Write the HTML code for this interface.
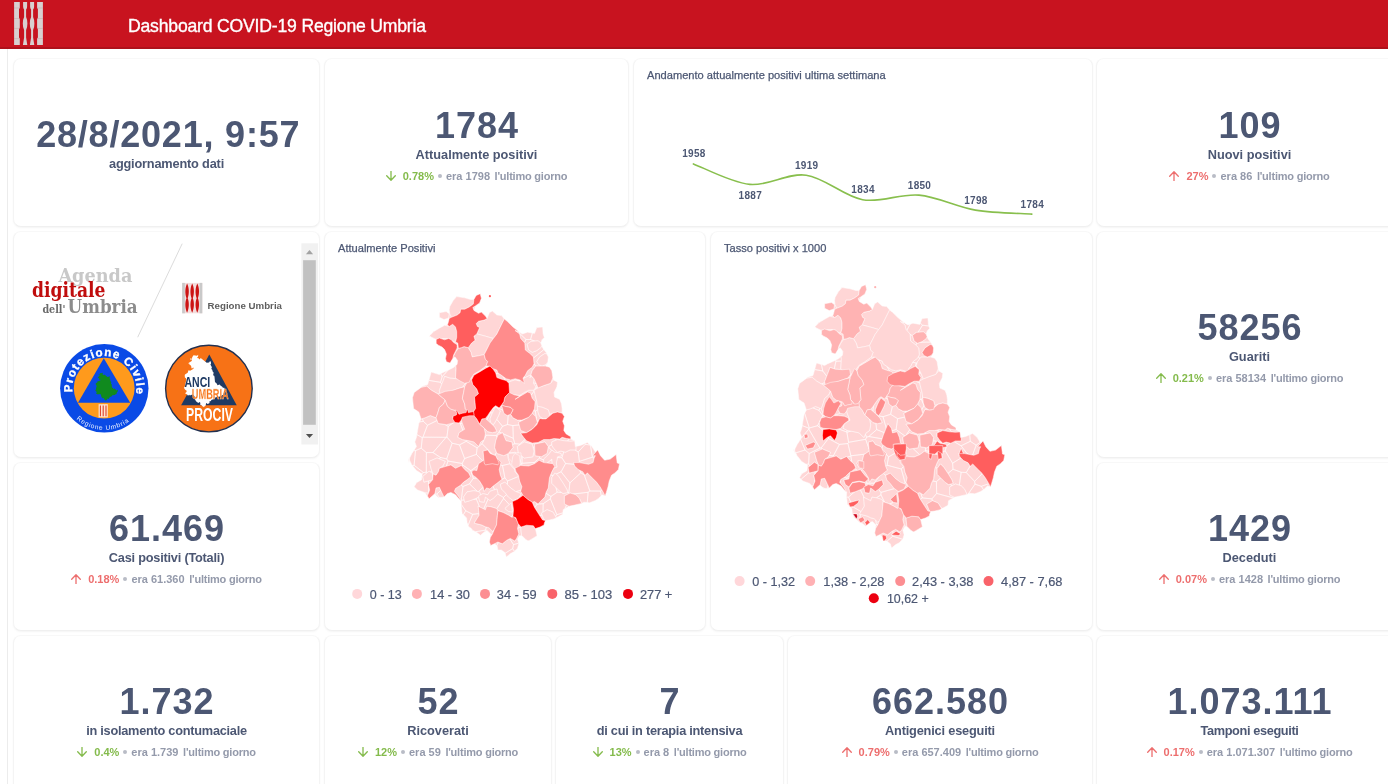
<!DOCTYPE html>
<html lang="it">
<head>
<meta charset="utf-8">
<title>Dashboard COVID-19 Regione Umbria</title>
<style>
*{box-sizing:border-box;margin:0;padding:0}
html,body{width:1388px;height:784px;overflow:hidden;background:#fff;font-family:"Liberation Sans",sans-serif;color:#4c5773}
#hdr{position:absolute;left:0;top:0;width:1388px;height:49px;background:#c8131f;border-bottom:2px solid #ae111b}
#hdr .t{position:absolute;left:128px;top:14.5px;font-size:17.6px;color:#fff;white-space:nowrap;letter-spacing:-.19px;line-height:22px;-webkit-text-stroke:.35px #fff}
#frame{position:absolute;left:7px;top:49px;width:1px;height:735px;background:#ececec}
.card{position:absolute;background:#fff;border:1px solid #f4f4f4;border-top-color:#f8f8f8;border-bottom-color:#f0f0f0;border-radius:8px;box-shadow:0 1px 2px rgba(0,0,0,.045)}
.ln{position:absolute;left:0;right:0;text-align:center;white-space:nowrap}
.num{font-weight:700;font-size:36px;line-height:40px;color:#4c5773;letter-spacing:1px;padding-left:1px}
.lab{font-weight:700;font-size:12.75px;line-height:16px;color:#4c5773}
.sub{font-weight:700;font-size:11px;line-height:14px;color:#949aab;display:flex;justify-content:center;align-items:center}
.sub .g{color:#84bb4c}.sub .r{color:#ed6e6e}
.sub svg{width:10px;height:10px;margin-right:7px;flex:none}
.sub .dot{width:4px;height:4px;border-radius:50%;background:#b9bcc6;margin:0 4px 0 4px;flex:none}
.sub .e{margin-right:4.6px}
.sub .l{letter-spacing:-.22px}
.ttl{position:absolute;font-size:11.1px;line-height:14px;color:#4c5773;white-space:nowrap;-webkit-text-stroke:.25px #4c5773}
</style>
</head>
<body>
<div id="hdr"><svg style="position:absolute;left:13px;top:0" width="32" height="48" viewBox="13 0 32 48">
<g fill="#d8d0d0">
<path d="M14.1 2H19.8V8L19 9V17.5L19.8 19.5V27.5L19 29.5V37.6L19.8 38.6V45H14.1Z"/>
<path d="M42.9 2H37.1V8L37.9 9V17.5L37.1 19.5V27.5L37.9 29.5V37.6L37.1 38.6V45H42.9Z"/>
<path d="M23.1 2H27.1V6.5Q27.1 8.5 26.1 9.5V17Q27.4 19.5 27.4 23.5Q27.4 27.5 26.1 30V37.5L27.3 45H22.9L24.1 37.5V30Q22.8 27.5 22.8 23.5Q22.8 19.5 24.1 17V9.5Q23.1 8.5 23.1 6.5Z"/>
<path d="M30.1 2H34.1V6.5Q34.1 8.5 33.1 9.5V17Q34.4 19.5 34.4 23.5Q34.4 27.5 33.1 30V37.5L34.3 45H29.9L31.1 37.5V30Q29.8 27.5 29.8 23.5Q29.8 19.5 31.1 17V9.5Q30.1 8.5 30.1 6.5Z"/>
</g>
<g stroke="#b88" stroke-width=".5" opacity=".6"><path d="M14.1 8H19.8M14.1 18.5H19.8M14.1 28.4H19.8M14.1 38.6H19.8M37.1 8H42.9M37.1 18.5H42.9M37.1 28.4H42.9M37.1 38.6H42.9"/></g>
</svg><div class="t">Dashboard COVID-19 Regione Umbria</div></div>
<div id="frame"></div>
<div class="card" style="left:13px;top:58px;width:307px;height:169px">
  <div class="ln num" style="top:56px;letter-spacing:.8px;padding-left:3.5px">28/8/2021, 9:57</div>
  <div class="ln lab" style="top:97px;letter-spacing:-.18px">aggiornamento dati</div>
</div>
<div class="card" style="left:324px;top:58px;width:305px;height:169px">
  <div class="ln num" style="top:47px">1784</div>
  <div class="ln lab" style="top:88px">Attualmente positivi</div>
  <div class="ln sub" style="top:110px"><svg viewBox="0 0 10 10"><path d="M5 0.2V9.1M0.7 4.8L5 9.2L9.3 4.8" fill="none" stroke="#84bb4c" stroke-width="1.3" stroke-linecap="round" stroke-linejoin="round"/></svg><span class="g">0.78%</span><span class="dot"></span><span class="e">era 1798</span><span class="l">l'ultimo giorno</span></div>
</div>
<div class="card" style="left:633px;top:58px;width:460px;height:169px">
  <div class="ttl" style="left:13px;top:9px">Andamento attualmente positivi ultima settimana</div>
  <svg style="position:absolute;left:-1px;top:-1px" width="460" height="169" viewBox="633 58 460 169">
<path d="M693.4 163.9C702.8 167.3 731.0 182.5 749.8 184.4C768.6 186.3 787.4 172.6 806.2 175.2C825.0 177.7 843.8 196.4 862.6 199.7C881.4 203.0 900.2 193.3 919.0 195.1C937.8 196.8 956.6 206.9 975.4 210.1C994.2 213.2 1022.4 213.4 1031.8 214.1" fill="none" stroke="#88bf4d" stroke-width="1.6" stroke-linecap="round"/>
<g font-family="Liberation Sans, sans-serif" font-weight="700" font-size="10" fill="#4c5773" text-anchor="middle" letter-spacing=".3"><text x="693.9" y="157.3">1958</text><text x="750.3" y="198.7">1887</text><text x="806.7" y="168.6">1919</text><text x="863.1" y="193.1">1834</text><text x="919.5" y="188.5">1850</text><text x="975.9" y="203.5">1798</text><text x="1032.3" y="207.5">1784</text></g>
</svg>
</div>
<div class="card" style="left:1096px;top:58px;width:307px;height:169px">
  <div class="ln num" style="top:47px">109</div>
  <div class="ln lab" style="top:88px">Nuovi positivi</div>
  <div class="ln sub" style="top:110px"><svg viewBox="0 0 10 10"><path d="M5 9.8V0.9M0.7 5.2L5 0.8L9.3 5.2" fill="none" stroke="#ed6e6e" stroke-width="1.3" stroke-linecap="round" stroke-linejoin="round"/></svg><span class="r">27%</span><span class="dot"></span><span class="e">era 86</span><span class="l">l'ultimo giorno</span></div>
</div>
<div class="card" style="left:13px;top:231px;width:307px;height:227px"><svg style="position:absolute;left:-1px;top:-1px" width="307" height="227" viewBox="13 231 307 227">
<defs>
<path id="pcTop" d="M72.5 392.2A32 32 0 1 1 135.6 394.4"/>
<path id="pcBot" d="M74.9 417.7A41.5 41.5 0 0 0 133.7 417.7"/>
</defs>
<g font-family="DejaVu Serif Condensed, DejaVu Serif, Liberation Serif, serif">
<text x="58.4" y="281.9" font-size="18.8" font-weight="700" fill="#c8c8c8" textLength="74" lengthAdjust="spacingAndGlyphs">Agenda</text>
<text x="42.4" y="313.1" font-size="11.8" font-weight="700" fill="#6a6a6a" textLength="23" lengthAdjust="spacingAndGlyphs">dell'</text>
<text x="67.6" y="313.1" font-size="17.8" font-weight="700" fill="#8c8c8c" textLength="70" lengthAdjust="spacingAndGlyphs">Umbria</text>
<text x="32" y="297.4" font-size="19.8" font-weight="700" fill="#c00d0d" textLength="73.5" lengthAdjust="spacingAndGlyphs">digitale</text>
</g>
<path d="M182.2 243.7L137.7 337.2" stroke="#dcdcdc" stroke-width="1" fill="none"/>
<rect x="182.2" y="282.9" width="20.1" height="30.4" fill="#f3dede"/>
<rect x="182.2" y="282.9" width="2.6" height="30.4" fill="#c9c9c9"/><rect x="199.7" y="282.9" width="2.6" height="30.4" fill="#c9c9c9"/>
<path d="M187.1 283.6C189.29999999999998 288 189.29999999999998 294 187.7 298.2C189.29999999999998 302 189.29999999999998 308 187.1 312.8C184.9 308 184.9 302 186.5 298.2C184.9 294 184.9 288 187.1 283.6ZM192.2 283.6C194.39999999999998 288 194.39999999999998 294 192.79999999999998 298.2C194.39999999999998 302 194.39999999999998 308 192.2 312.8C190.0 308 190.0 302 191.6 298.2C190.0 294 190.0 288 192.2 283.6ZM197.3 283.6C199.5 288 199.5 294 197.9 298.2C199.5 302 199.5 308 197.3 312.8C195.10000000000002 308 195.10000000000002 302 196.70000000000002 298.2C195.10000000000002 294 195.10000000000002 288 197.3 283.6Z" fill="#cc1414"/>
<text x="207.6" y="308.8" font-family="Liberation Sans, sans-serif" font-weight="700" font-size="8.8" fill="#5e5e5e" textLength="74.4" lengthAdjust="spacingAndGlyphs">Regione Umbria</text>
<!-- Protezione Civile -->
<circle cx="104.3" cy="388.3" r="44.2" fill="#0a4ae6"/>
<circle cx="104.2" cy="388.2" r="30.4" fill="#ff9a1c"/>
<path d="M103.8 358.2L78 402.8H130.2Z" fill="#0a4ae6"/>
<path d="M99.7 374.0L100.5 372.9L102.3 373.2L103.0 372.6L102.9 373.6L102.3 374.4L103.1 374.6L103.7 375.2L104.3 374.5L107.5 376.9L108.8 376.8L109.0 376.2L109.7 376.2L109.8 377.3L109.5 377.9L110.3 379.4L110.0 380.3L110.4 380.5L110.8 381.8L111.3 382.1L110.9 383.7L111.5 383.9L111.7 384.4L111.9 387.2L113.1 388.3L113.2 389.0L114.5 388.5L115.3 389.6L115.6 389.3L116.3 390.4L117.5 389.8L117.9 390.8L117.8 391.4L117.0 392.0L116.4 394.2L116.0 394.1L114.7 395.0L112.5 395.3L111.9 395.7L111.8 396.2L110.0 396.9L109.8 397.4L108.9 397.7L109.1 398.5L108.1 399.1L107.2 398.5L107.0 399.8L105.8 400.8L105.6 400.3L104.9 400.0L104.8 399.6L104.1 399.6L104.1 398.3L103.7 397.9L103.0 398.5L101.8 397.5L101.1 396.1L101.0 394.9L100.3 394.1L99.9 393.9L98.5 394.4L98.1 394.1L97.5 394.5L97.0 393.9L95.9 393.3L96.7 392.5L96.8 391.9L96.2 391.5L95.7 390.9L95.3 390.2L95.4 390.7L95.4 390.2L96.2 389.0L96.0 388.5L96.7 386.0L96.4 385.3L95.9 384.9L95.7 383.7L95.9 383.2L97.4 382.3L97.7 381.0L98.6 381.3L100.5 380.2L100.3 379.4L99.8 380.0L99.4 379.9L99.2 378.6L98.3 377.9L98.3 377.5L97.6 377.2L99.5 375.9L99.7 375.2L98.6 375.1L98.6 374.6L99.7 374.8Z" fill="#108a1e"/>
<rect x="98.6" y="404.2" width="9.2" height="13.2" fill="#ffe3d0"/>
<path d="M100.4 405.5v10.8M103.2 405.5v10.8M106 405.5v10.8" stroke="#e0402a" stroke-width="1.1"/>
<g font-family="Liberation Sans, sans-serif" fill="#fff">
<text font-size="11.6" font-weight="700" stroke="#fff" stroke-width=".35"><textPath href="#pcTop" startOffset="0" textLength="110" lengthAdjust="spacing">Protezione Civile</textPath></text>
<text font-size="6.6" fill="#e8eeff"><textPath href="#pcBot" startOffset="2" textLength="57" lengthAdjust="spacing">Regione Umbria</textPath></text>
</g>
<!-- ANCI -->
<circle cx="208.9" cy="388.6" r="43.3" fill="#f77216" stroke="#22304f" stroke-width="1.4"/>
<path d="M209.3 354.4L181.1 405.3H236.7Z" fill="#1f3a63"/>
<clipPath id="anciClip"><path d="M170 340H206L227 395L224 410H170Z"/></clipPath>
<path d="M192.2 357.2L193.5 355.2L197.0 355.8L198.2 354.7L198.1 356.5L197.0 358.0L198.5 358.3L199.6 359.6L200.7 358.1L206.7 362.7L209.1 362.6L209.6 361.4L210.7 361.3L211.1 363.4L210.4 364.5L211.9 367.3L211.3 369.1L212.1 369.4L212.9 371.9L213.7 372.4L213.1 375.3L214.2 375.8L214.5 376.7L215.0 382.0L217.1 384.1L217.3 385.2L219.7 384.4L221.3 386.4L221.7 385.9L223.1 388.0L225.4 386.8L226.1 388.7L225.9 389.8L224.5 391.0L223.2 395.1L222.7 394.9L220.1 396.5L216.0 397.2L214.9 397.8L214.7 398.8L211.3 400.0L211.0 401.1L209.3 401.6L209.6 403.1L207.8 404.1L206.1 403.1L205.7 405.6L203.5 407.3L203.2 406.4L201.8 405.9L201.6 405.0L200.3 405.0L200.3 402.7L199.6 402.0L198.3 403.0L196.0 401.3L194.6 398.6L194.5 396.2L193.3 394.9L192.4 394.4L189.9 395.4L189.2 394.7L188.0 395.7L187.1 394.4L185.0 393.3L186.5 391.9L186.7 390.7L185.5 390.0L184.6 388.9L183.9 387.5L184.0 388.5L184.1 387.5L185.5 385.2L185.2 384.3L186.4 379.7L186.0 378.3L184.9 377.6L184.7 375.4L185.0 374.4L187.7 372.8L188.5 370.3L190.1 370.8L193.6 368.8L193.2 367.3L192.2 368.5L191.5 368.3L191.1 365.8L189.4 364.6L189.4 363.8L188.1 363.2L191.7 360.9L192.0 359.6L190.1 359.4L190.1 358.4L192.0 358.7Z" fill="#fff" clip-path="url(#anciClip)"/>
<g font-family="Liberation Sans, sans-serif" font-weight="700">
<text x="184.5" y="386.6" font-size="15" fill="#1f3a63" textLength="25.7" lengthAdjust="spacingAndGlyphs">ANCI</text>
<text x="191.8" y="399" font-size="14.5" fill="#f77216" stroke="#fbd0a8" stroke-width=".35" textLength="36.9" lengthAdjust="spacingAndGlyphs">UMBRIA</text>
<text x="186.1" y="420.7" font-size="17.7" fill="#fff" textLength="46.9" lengthAdjust="spacingAndGlyphs">PROCIV</text>
</g>
<!-- scrollbar -->
<rect x="301.4" y="243.3" width="16.7" height="201.2" fill="#f1f1f1"/>
<rect x="303.1" y="260.2" width="12.7" height="164.6" fill="#c1c1c1"/>
<path d="M305.9 254.2L309.5 250L313.1 254.2Z" fill="#a3a3a3"/>
<path d="M305.9 433.9L309.5 438.1L313.1 433.9Z" fill="#505050"/>
</svg></div>
<div class="card" style="left:324px;top:231px;width:382px;height:400px">
  <div class="ttl" style="left:13px;top:9px">Attualmente Positivi</div>
  <svg style="position:absolute;left:-1px;top:-1px" width="382" height="400" viewBox="324 231 382 400">
<g><path d="M416.5 470.6L422.2 474.1L421.6 479.8L416.5 482.7L414.2 486.7L417.6 490.1L424.5 492.4L427.4 495.9L429.1 498.8L434.9 494.2L438.3 497.6L444.0 497.0L447.5 493.6L450.9 492.4L455.5 494.8L461.3 501.6L461.2 505.4L462.1 513.4L466.6 517.9L467.1 522.5L468.8 526.8L471.1 528.2L472.9 530.5L476.4 532.0L480.4 535.3L484.9 531.4L487.1 530.4L490.7 533.9L489.4 542.0L490.7 545.5L494.3 543.8L497.0 545.5L497.9 550.0L501.4 550.0L505.0 552.7L506.3 557.1L510.4 553.6L513.9 551.8L517.5 548.2L518.8 543.8L517.5 539.3L519.3 535.7L522.0 535.7L525.5 539.3L528.2 541.1L532.7 538.4L537.1 535.7L535.4 528.6L540.7 526.8L543.8 525.9L544.3 523.2L545.4 520.6L549.5 520.0L554.0 518.9L558.6 516.6L562.7 514.3L563.2 509.7L569.0 506.2L574.7 505.1L580.5 503.9L583.9 502.2L589.6 502.8L595.4 500.5L598.8 498.2L602.3 494.8L605.1 495.9L606.3 492.4L608.0 486.7L609.2 481.0L611.5 475.2L614.9 472.9L618.4 469.5L619.5 463.7L617.2 463.0L616.1 454.5L610.3 459.1L604.6 460.3L600.5 455.7L597.7 449.9L595.4 452.2L591.9 446.5L587.4 442.5L580.5 445.4L575.3 446.5L574.7 440.8L570.7 439.0L570.7 436.7L566.1 433.9L563.8 430.4L564.4 425.8L562.7 421.2L564.4 416.6L562.1 413.2L562.1 408.6L561.5 404.0L559.8 399.4L554.6 397.1L554.0 392.5L556.9 386.8L557.5 382.2L553.5 379.9L552.9 378.0L551.8 370.7L549.5 367.2L545.4 366.1L547.7 362.6L548.3 356.9L546.0 352.3L542.6 347.7L540.8 343.1L542.0 339.7L544.3 337.4L543.1 333.9L542.6 327.0L536.8 327.6L534.5 333.4L527.6 332.2L522.5 333.9L518.7 331.6L518.7 331.6L513.0 327.0L507.2 321.3L504.3 319.0L501.5 315.6L496.9 315.0L492.3 311.0L489.4 312.7L487.1 318.4L485.4 316.1L481.4 312.1L478.5 313.3L473.9 310.4L475.6 305.8L479.6 302.9L481.4 298.3L480.2 293.7L476.2 295.5L473.9 299.5L470.5 299.5L464.7 297.8L456.7 296.6L453.2 300.6L449.8 306.4L449.2 309.8L449.2 313.8L446.3 311.5L439.4 312.7L439.4 317.3L444.0 319.6L448.6 317.9L449.2 318.4L448.6 321.3L447.5 324.8L444.6 325.3L439.4 328.2L433.7 331.6L429.7 335.7L429.5 336.2L436.2 339.4L436.2 343.4L438.4 345.2L442.0 347.0L444.6 349.6L446.4 354.1L445.5 358.6L446.4 361.7L450.0 363.0L452.7 358.6L454.9 356.8L457.6 360.4L457.1 364.4L453.6 367.5L448.2 370.2L442.0 372.9L439.3 374.6L431.2 372.0L429.5 378.2L427.7 384.5L422.3 386.2L421.1 387.4L414.2 392.5L412.5 397.7L413.0 402.9L413.6 408.6L418.8 412.0L421.1 418.9L418.8 423.5L417.6 430.4L416.5 437.3L414.8 441.9L416.5 446.5L411.9 453.4L409.6 458.0L409.4 459.9L411.9 464.9ZM409.0 463.0L409.4 459.9L408.4 458.0Z" fill="#ffd6d6" stroke="#fff" stroke-width="1"/>
<path d="M474.2 309.7L475.6 305.8L472.8 307.5L473.5 309.5ZM449.2 311.7L449.2 313.8L448.6 317.9L449.2 318.4L451.5 317.3L449.8 313.8L449.5 311.9ZM443.5 338.5L442.9 338.5L441.2 338.7L443.3 339.4ZM431.0 337.0L429.7 335.7L429.5 336.2ZM436.9 339.1L436.6 339.1L435.1 338.9L436.2 339.4ZM449.2 326.5L447.5 324.8L444.6 325.3ZM457.8 346.5L458.2 346.5L457.8 343.1L457.1 342.8ZM519.7 333.4L519.5 332.2L518.7 331.6L518.7 331.6L515.0 330.5L519.2 333.6ZM519.7 333.4L526.0 339.5L530.5 339.5L532.4 333.0L527.6 332.2L522.5 333.9L519.5 332.2ZM530.5 339.5L534.7 341.1L538.0 340.8L540.9 343.0L542.0 339.7L544.3 337.4L543.1 333.9L542.6 327.0L536.8 327.6L534.5 333.4L532.4 333.0ZM457.8 346.5L457.1 342.8L455.5 342.0L453.2 341.4L451.8 340.4L453.6 342.5L457.1 344.7L457.1 347.1ZM443.3 339.4L444.6 339.8L448.5 338.5L443.5 338.5ZM448.8 338.5L450.3 339.3L449.2 338.5ZM526.0 339.5L519.7 333.4L519.2 333.6L519.6 333.9L520.7 338.5L524.4 342.7ZM530.5 339.5L526.0 339.5L524.4 342.7L524.8 343.1L525.3 350.0L529.9 353.5L533.4 356.9L533.5 358.0L543.6 349.8L543.0 348.3L542.6 347.7L541.8 345.7L540.8 347.7L536.8 350.6L532.2 352.3L528.8 350.0L527.1 344.3L531.1 341.4L534.7 341.1ZM442.2 376.6L447.9 370.3L442.0 372.9L440.7 373.7ZM457.8 346.5L457.1 347.1L457.1 347.9L455.4 351.4L453.6 355.0L453.0 357.4L453.8 355.8L455.5 352.3L458.4 348.3L458.2 346.5ZM499.3 373.8L498.0 373.0L496.9 370.1L492.3 368.4L490.0 366.1L486.8 366.1L487.3 367.5L490.0 366.1L493.4 369.6L495.7 373.0L495.8 373.3ZM535.8 366.1L542.0 366.1L538.5 364.4L536.8 361.5L539.7 356.9L544.9 353.5L546.9 354.0L548.3 356.9L546.0 352.3L544.6 350.4L543.6 349.8L533.5 358.0L533.9 363.6ZM547.8 361.9L546.0 364.4L542.0 366.1L545.4 366.1L547.7 362.6ZM440.5 382.3L442.2 376.6L440.7 373.7L439.3 374.6L431.2 372.0L429.5 378.2L428.8 380.4ZM442.2 376.6L440.5 382.3L441.5 383.9L441.9 383.8L442.0 383.6L443.8 379.1L444.6 376.4L450.0 378.2L456.4 378.6L455.5 378.0L456.1 368.4L455.8 365.5L453.6 367.5L448.2 370.2L447.9 370.3ZM486.8 366.1L486.0 366.1L479.6 370.7L473.9 374.1L471.0 378.0L470.7 378.9L471.6 379.9L473.9 375.3L479.6 371.9L485.4 368.4L487.3 367.5ZM503.3 376.7L501.5 375.3L499.3 373.8L495.8 373.3L496.9 377.6L501.5 379.3L505.3 380.3ZM505.3 380.3L506.1 380.5L507.9 382.3L508.1 382.2L515.0 379.9L517.4 380.5L516.9 379.1L515.2 378.7L510.6 379.9L506.1 378.7L503.3 376.7ZM517.4 380.5L517.5 380.5L520.4 380.3L519.8 379.9L516.9 379.1ZM524.4 376.4L523.0 378.0L523.3 378.8L524.4 378.1ZM524.4 378.1L525.3 377.6L529.9 375.3L530.6 375.9L532.2 370.7L535.7 366.1L535.8 366.1L533.9 363.6L534.0 363.8L532.2 367.2L527.6 370.7L525.3 375.3L524.4 376.4ZM536.4 383.8L536.2 383.3L534.0 378.7L533.5 382.7ZM530.8 376.0L534.0 378.7L531.1 375.3ZM552.9 377.7L550.6 383.3L553.5 379.9L552.9 378.0ZM552.9 377.7L552.9 377.7L552.9 378.0L551.8 370.7ZM439.9 393.0L439.3 390.7L441.7 384.4L441.5 383.9L440.5 382.3L428.8 380.4L427.7 384.5L422.3 386.2L421.1 387.4L426.8 386.2L431.4 390.2L438.1 394.1ZM464.6 384.3L462.5 387.1L461.4 387.5L461.2 387.7L464.7 386.8L466.7 382.8L466.0 383.0ZM520.7 394.7L519.6 395.4L515.0 394.8L514.1 394.8L519.8 396.0L515.0 399.4L520.6 396.1ZM517.5 380.5L519.6 381.0L520.6 380.4L520.4 380.3ZM533.5 382.7L533.4 383.3L535.7 386.8L534.0 390.2L535.3 389.4L537.0 387.1L536.9 385.0L536.4 383.8ZM534.2 391.0L534.0 390.2L528.8 390.2L524.2 392.5L520.7 394.7L520.6 396.1L520.7 396.0L527.6 391.9L530.5 393.1L531.2 395.1ZM537.0 387.1L537.8 388.0L538.0 387.9L536.9 385.0ZM490.8 411.6L495.1 406.6L495.2 406.1L493.4 407.4L490.4 411.5ZM495.1 406.6L495.7 406.9L495.7 406.9L495.8 406.9L503.0 410.2L502.6 408.6L501.5 405.1L499.2 408.0L495.7 405.7L495.2 406.1ZM537.0 387.1L535.3 389.4L537.8 388.0ZM531.2 395.1L532.2 398.3L535.1 401.7L534.5 408.6L533.7 410.3L535.3 411.1L537.7 409.8L537.4 406.3L536.8 401.7L535.1 394.8L534.2 391.0ZM423.3 421.3L422.4 418.6L421.1 418.9L419.6 421.9ZM423.3 421.3L427.5 425.2L437.1 420.5L436.0 417.8L430.3 415.5L425.1 417.8L422.4 418.6ZM455.5 410.5L454.9 410.3L456.4 411.7L455.7 410.6ZM448.3 426.3L453.3 422.8L450.9 423.5L446.3 424.7L444.7 424.4ZM460.2 423.2L462.4 423.4L461.3 420.1L459.1 422.8ZM458.1 412.6L459.0 414.3L459.2 414.3L458.2 412.6ZM474.6 410.1L473.6 411.5L473.6 411.7L474.6 410.1ZM468.4 412.6L468.8 412.5L468.2 411.8ZM490.9 412.2L490.8 411.6L490.4 411.5L490.0 412.0L487.7 415.5L485.4 418.4L486.9 419.7ZM495.1 406.6L490.8 411.6L490.9 412.2L492.1 413.6L492.3 413.2L494.0 409.8L495.7 406.9ZM495.8 406.9L500.3 410.9L498.6 415.5L496.7 419.2L502.5 426.3L507.5 424.5L508.2 415.2L507.2 415.5L503.8 413.2L503.0 410.2ZM512.9 425.6L519.2 424.9L518.5 422.4L520.4 421.4L520.7 420.1L517.5 420.1L513.0 417.8L510.6 414.3L508.2 415.2L507.5 424.5ZM520.4 421.4L528.8 417.2L521.9 420.1L520.7 420.1ZM535.3 411.1L533.7 410.3L532.2 413.2L535.7 416.6L536.7 420.1ZM538.3 421.5L539.7 418.4L542.6 418.9L543.7 418.9L539.7 416.6L538.0 412.0L537.7 409.8L535.3 411.1L536.7 420.1L536.8 420.5ZM546.4 418.6L543.7 418.9L546.0 418.9ZM552.9 413.2L549.5 414.3L548.8 416.6L549.5 416.1ZM422.3 437.7L422.9 437.2L427.5 425.2L423.3 421.3L419.6 421.9L418.8 423.5L417.6 430.4L416.9 434.6ZM427.5 425.2L422.9 437.2L446.1 437.3L446.9 437.0L448.3 426.3L444.7 424.4L442.9 424.1L438.3 423.5L437.1 420.5ZM446.9 437.0L452.1 443.2L459.5 444.9L466.2 441.3L466.6 440.3L462.4 439.6L457.8 437.3L459.0 432.7L462.9 430.4L460.2 423.2L459.1 422.8L459.0 422.9L454.9 422.4L453.3 422.8L448.3 426.3ZM460.2 423.2L462.9 430.4L464.7 429.3L462.4 423.5L462.4 423.4ZM486.9 419.7L490.0 422.4L494.6 427.0L496.9 431.6L492.3 432.7L487.7 431.6L484.2 428.1L485.4 433.9L485.3 434.3L486.2 435.2L496.3 435.6L499.0 432.0L502.5 426.3L496.7 419.2L495.7 421.2L493.4 424.7L490.6 422.4L490.0 418.9L492.1 413.6L490.9 412.2ZM513.3 438.3L512.9 425.6L507.5 424.5L502.5 426.3L499.0 432.0L501.7 433.2L502.6 432.7L503.1 433.8ZM512.9 425.6L513.3 438.3L514.8 443.7L519.5 444.1L525.3 439.4L523.6 437.3L520.7 433.3L525.9 432.8L525.8 432.4L520.7 430.4L519.2 424.9ZM536.8 420.5L537.4 422.4L533.4 428.1L526.5 432.7L532.2 429.3L536.8 424.7L538.3 421.5ZM525.9 432.8L526.5 432.7L525.8 432.4ZM569.1 438.8L566.7 438.5L562.1 437.3L559.8 439.0L555.3 438.6L556.2 440.1L557.5 439.6L564.4 440.8L567.6 441.1ZM415.5 450.6L421.2 448.2L422.3 437.7L416.9 434.6L416.5 437.3L414.8 441.9L416.5 446.5L413.7 450.7ZM421.2 448.2L426.4 452.6L433.0 452.6L446.1 437.3L422.9 437.2L422.3 437.7ZM446.1 437.3L433.0 452.6L440.5 457.5L446.7 458.9L452.1 443.2L446.9 437.0ZM459.5 444.9L464.6 458.5L476.4 454.4L477.1 447.9L466.2 441.3ZM486.2 435.2L485.3 434.3L484.4 439.0ZM466.2 441.3L477.1 447.9L482.1 443.7L484.0 439.8L480.8 441.9L478.5 446.5L473.9 441.9L469.3 440.8L466.6 440.3ZM496.4 452.2L494.6 447.6L495.7 440.8L497.1 437.3L496.3 435.6L486.2 435.2L484.4 439.0L484.2 439.6L484.0 439.8L482.1 443.7L492.5 454.4L495.1 455.4ZM514.8 443.7L513.3 438.3L503.1 433.8L506.1 440.8L511.8 441.9L512.3 444.6ZM499.0 432.0L496.3 435.6L497.1 437.3L498.0 435.0L501.7 433.2ZM519.5 444.1L519.7 444.9L524.2 441.9L532.2 444.2L533.1 447.5L534.6 446.4L534.5 444.2L537.9 443.5L537.5 442.5L532.2 443.1L526.5 440.8L525.3 439.4ZM555.3 438.6L554.0 438.5L549.5 439.6L543.7 439.6L538.0 442.5L537.5 442.5L537.9 443.5L544.9 441.9L548.3 446.5L548.3 446.8L548.3 446.8L551.8 444.5L551.8 441.9L556.2 440.1ZM548.3 446.8L551.5 450.3L551.8 449.9L554.6 452.2L560.9 453.4L561.5 455.7L557.5 456.8L557.5 457.0L557.9 457.5L561.9 457.8L563.7 451.8L560.9 451.1L557.5 452.2L554.0 448.8L551.8 445.4L551.8 444.5ZM567.6 441.1L570.1 441.3L574.7 440.9L574.7 440.8L570.7 439.0L569.1 438.8ZM578.2 452.0L585.2 444.3L584.5 443.7L580.5 445.4L575.9 446.4L575.9 449.9L575.0 449.9ZM585.2 444.3L590.2 445.0L587.4 442.5L584.5 443.7ZM414.1 465.3L415.5 450.6L413.7 450.7L411.9 453.4L409.6 458.0L409.4 459.9L411.9 464.9L412.4 465.6ZM408.4 458.0L409.0 463.0L409.4 459.9ZM426.3 472.2L426.4 452.6L421.2 448.2L415.5 450.6L414.1 465.3L423.5 472.6ZM440.5 457.5L433.0 452.6L426.4 452.6L426.3 472.2L427.2 472.7L429.1 471.2L430.6 472.2L431.8 470.5L431.4 469.5L429.1 461.4L437.1 458.0L439.5 459.0ZM464.6 458.5L459.5 444.9L452.1 443.2L446.7 458.9L448.0 461.0L462.2 463.5ZM476.4 454.4L464.6 458.5L462.2 463.5L462.7 465.0L470.8 470.7L478.1 465.5L478.5 463.7L482.7 460.9ZM482.1 443.7L477.1 447.9L476.4 454.4L482.7 460.9L484.0 460.1L483.1 451.1L487.7 449.9L490.0 453.4L492.5 454.4ZM509.7 451.7L508.4 453.3L509.9 453.1ZM502.5 465.5L510.2 463.7L508.4 459.1L507.8 453.7L503.8 455.7L496.9 453.4L496.4 452.2L495.1 455.4L495.7 455.7L497.3 459.0L498.0 459.1L500.9 462.6L500.3 465.0ZM512.3 444.6L513.0 447.6L509.7 451.7L509.9 453.1L515.2 452.2L515.9 453.1L518.4 452.9L517.3 446.5L519.7 444.9L519.5 444.1L514.8 443.7ZM522.0 463.3L522.2 456.4L521.0 455.4L521.0 458.0L520.4 460.9L521.0 463.7L520.9 464.1ZM539.6 456.5L535.1 455.7L534.6 446.4L533.1 447.5L534.0 451.1L532.8 456.8L524.2 458.0L522.2 456.4L522.0 463.3L534.3 462.4L539.5 458.1ZM557.9 457.5L557.5 457.0L557.3 457.7ZM551.8 459.8L551.8 459.1L550.4 460.3ZM539.5 458.1L543.7 460.1L543.7 459.1L549.5 453.4L551.5 450.3L548.3 446.8L548.3 446.8L547.1 453.4L541.4 456.8L539.6 456.5ZM579.4 461.4L578.2 452.0L575.0 449.9L570.1 449.9L565.5 452.2L563.7 451.8L561.9 457.8L565.6 463.5L574.1 464.3L573.6 462.6L578.6 462.6ZM585.2 444.3L578.2 452.0L579.4 461.4L592.4 457.2L590.4 445.1L590.2 445.0ZM592.4 457.2L594.2 458.2L594.2 458.0L595.4 455.7L592.5 455.7L597.7 449.9L595.4 452.2L591.9 446.5L590.4 445.1ZM423.5 472.6L414.1 465.3L412.4 465.6L416.5 470.6L421.7 473.8ZM448.0 461.0L446.7 458.9L440.5 457.5L439.5 459.0L445.2 461.4L442.9 466.0L439.4 468.3L445.2 466.6L446.3 466.3ZM430.6 472.2L432.6 473.5L432.6 473.7L433.0 473.8L431.8 470.5ZM462.7 465.0L462.2 463.5L448.0 461.0L446.3 466.3L450.9 464.9L455.5 468.3L461.3 465.5L462.0 466.3ZM462.7 465.0L462.0 466.3L464.7 469.5L468.7 472.9L470.5 476.9L467.0 479.8L463.6 482.1L460.8 484.9L463.0 486.5L469.5 483.9L473.3 478.2L470.8 470.7ZM470.8 470.7L473.3 478.2L476.8 478.2L476.2 477.5L472.8 475.2L471.6 471.8L473.9 470.1L476.8 470.6L478.1 465.5ZM504.9 477.8L502.5 465.5L500.3 465.0L499.2 469.5L500.3 475.2L502.0 479.2L501.7 479.5ZM502.5 465.5L504.9 477.8L507.5 481.0L518.7 476.4L518.6 476.0L515.2 471.8L514.8 468.8L514.1 468.9L510.6 464.9L510.2 463.7ZM534.3 462.4L522.0 463.3L520.9 464.1L520.8 464.6L524.0 465.7L528.8 466.0L534.5 463.7L534.7 463.6ZM550.9 475.0L550.7 474.4L550.4 475.2ZM547.4 462.8L547.2 463.0L547.4 463.1ZM539.5 458.1L534.3 462.4L534.7 463.6L539.1 460.3L543.7 462.6L543.7 460.1ZM557.3 457.7L556.3 463.0L556.9 467.2L553.8 468.0L551.8 471.8L550.7 474.4L550.9 475.0L552.8 475.6L553.4 475.3L555.2 472.9L556.3 474.0L561.1 471.8L565.6 463.5L561.9 457.8L557.9 457.5ZM550.4 460.3L547.4 462.8L547.4 463.1L552.3 463.7L551.8 459.8ZM565.6 463.5L561.1 471.8L569.9 482.9L580.8 472.8L579.7 470.2L578.2 469.5L574.7 466.0L574.1 464.3ZM592.4 457.2L579.4 461.4L578.6 462.6L579.3 462.6L588.5 464.3L593.1 462.6L594.2 458.2ZM587.8 473.4L587.4 472.9L586.3 474.0ZM580.8 472.8L584.2 474.8L584.7 474.6L582.8 471.8L579.7 470.2ZM426.3 472.2L423.5 472.6L421.7 473.8L422.2 474.1L421.6 479.8L416.5 482.7L414.2 486.7L417.6 490.1L424.5 492.4L424.8 492.8L428.5 493.1L428.6 492.8L428.5 480.8L428.0 481.0L423.9 482.1L422.8 476.4L427.2 472.7ZM432.6 473.7L432.6 479.8L433.1 474.1L433.0 473.8ZM428.6 492.8L429.7 490.1L428.5 484.4L432.6 479.8L428.5 480.8ZM436.9 494.0L440.8 490.3L439.4 487.3L436.0 487.9L434.9 493.6L434.4 494.0ZM461.3 500.2L463.0 486.5L460.8 484.9L460.1 485.6L455.5 488.4L454.4 491.3L459.0 497.0L460.9 500.8ZM469.5 483.9L477.4 491.4L478.4 491.6L483.2 487.3L483.1 486.7L479.6 481.0L476.8 478.2L473.3 478.2ZM478.4 491.6L479.6 491.9L480.5 494.9L483.1 493.6L487.7 494.8L490.0 491.3L494.7 489.7L492.9 486.3L492.3 486.7L490.0 489.0L486.5 487.9L484.2 491.3L483.2 487.3ZM503.5 497.4L506.5 494.6L504.9 492.4L501.5 489.0L500.3 484.4L504.9 482.1L507.4 484.6L507.5 481.0L504.9 477.8L501.7 479.5L496.9 483.3L492.9 486.3L494.7 489.7L496.9 489.0L498.0 493.6L497.6 494.0ZM507.5 481.0L507.4 484.6L510.6 487.9L515.2 491.3L516.0 491.6L521.0 490.2L521.9 486.7L519.6 481.0L518.7 476.4ZM550.9 496.4L557.2 492.2L555.9 487.4L555.2 486.7L551.8 483.3L551.8 477.5L552.9 476.0L552.8 475.6L550.9 475.0L550.4 475.2L549.5 477.5L548.9 482.1L548.3 487.9L546.0 492.4L545.8 493.2ZM568.8 492.6L569.9 482.9L561.1 471.8L556.3 474.0L558.6 476.4L563.2 483.3L566.7 489.0L567.8 492.4L567.3 492.6ZM557.2 492.2L561.4 492.4L559.8 491.3L555.9 487.4ZM552.8 475.6L552.9 476.0L553.4 475.3ZM588.1 492.3L589.9 491.0L584.2 474.8L580.8 472.8L569.9 482.9L568.8 492.6L569.5 493.3L570.1 493.0L573.3 494.0ZM601.1 488.5L600.0 486.7L596.5 482.1L593.1 478.7L589.6 475.2L587.8 473.4L586.3 474.0L585.0 475.2L584.7 474.6L584.2 474.8L589.9 491.0L600.4 491.1L601.5 490.3ZM424.8 492.8L427.4 495.9L428.5 493.1ZM436.9 494.0L434.4 494.0L429.1 498.8L434.9 494.2L438.3 497.6L439.4 497.5ZM436.9 494.0L439.4 497.5L444.0 497.0L441.8 492.4L440.8 490.3ZM469.5 483.9L463.0 486.5L461.3 500.2L464.2 500.0L463.6 497.0L467.0 491.9L473.9 490.7L477.4 491.4ZM476.4 499.1L477.2 497.7L476.2 498.2L473.3 499.4ZM476.4 499.1L479.6 507.0L481.8 508.0L483.7 509.0L488.1 499.1L485.4 497.0L484.2 502.2L479.6 501.6L478.7 496.9L477.2 497.7ZM497.0 508.5L503.6 498.4L503.5 497.4L497.6 494.0L493.4 498.2L490.0 500.5L488.1 499.1L483.7 509.0L485.4 509.8L486.7 506.2L490.7 506.7L496.5 508.5L496.6 508.6ZM513.4 509.0L513.4 508.9L512.4 501.6L517.5 499.3L523.0 495.3L520.7 491.3L521.0 490.2L516.0 491.6L521.0 493.6L518.7 498.2L513.0 500.5L508.4 497.0L506.5 494.6L503.5 497.4L503.6 498.4L509.3 504.6L511.2 502.8L511.8 507.3ZM537.2 504.1L536.7 503.1L534.5 501.6L532.2 502.2L534.5 507.4L534.7 507.6ZM537.2 504.1L543.2 503.7L550.4 498.8L550.9 496.4L545.8 493.2L544.9 497.0L540.3 501.6L538.0 503.9L536.7 503.1ZM562.8 512.9L563.2 509.7L564.9 508.7L566.5 505.0L564.4 503.9L564.4 495.9L569.5 493.3L568.8 492.6L567.3 492.6L563.2 493.6L561.4 492.4L557.2 492.2L550.9 496.4L550.4 498.8L556.8 514.7ZM588.1 492.3L573.3 494.0L575.9 494.8L579.3 498.2L581.6 503.4L583.9 502.2L587.3 502.6ZM575.8 504.9L580.5 503.9L581.6 503.4L581.6 503.4L575.8 504.8ZM600.4 491.1L589.9 491.0L588.1 492.3L587.3 502.6L589.6 502.8L595.4 500.5L598.8 498.2L601.2 495.8ZM601.5 490.3L600.4 491.1L601.2 495.8L602.3 494.8L605.1 495.9L603.4 492.4L602.0 490.1ZM465.7 510.8L461.3 504.5L461.2 505.4L462.1 513.4L463.4 514.7ZM476.4 499.1L473.3 499.4L470.5 500.5L464.7 502.2L464.2 500.0L461.3 500.2L460.9 500.8L461.3 501.6L461.3 504.5L465.7 510.8L472.7 514.3L479.0 513.6L478.7 510.7L478.2 506.2L479.6 507.0ZM513.1 514.9L513.5 509.7L513.4 509.2L513.4 509.0L511.8 507.3L512.4 512.0L508.4 511.4L504.9 508.5L509.3 504.6L503.6 498.4L497.0 508.5L497.4 510.0L497.9 510.7L503.2 512.5L508.6 515.2L511.2 516.8ZM543.2 503.7L537.2 504.1L534.7 507.6L537.4 512.0L539.7 515.7L542.1 514.9L541.4 513.1L543.0 512.2ZM556.8 514.7L550.4 498.8L543.2 503.7L543.0 512.2L547.1 509.7L552.9 512.0L555.6 516.5ZM564.9 508.7L569.0 506.2L566.5 505.0ZM575.8 504.8L574.7 505.1L575.8 504.9ZM472.7 514.3L465.7 510.8L463.4 514.7L466.6 517.9L467.1 522.5L468.1 525.1ZM472.7 514.3L468.1 525.1L468.8 526.8L471.1 528.2L472.9 530.5L475.9 531.7L485.6 530.1L486.3 527.2L486.2 527.0L485.4 526.8L481.8 525.0L478.2 524.1L474.2 523.2L476.4 519.6L479.1 515.2L479.0 513.6ZM492.0 534.7L492.5 533.9L494.3 529.5L492.5 531.2L488.9 527.7L486.5 527.1L486.3 527.2L485.6 530.1L486.0 530.9L487.1 530.4L490.7 533.9L490.7 534.2ZM511.2 516.8L512.1 517.4L513.0 516.6L512.9 516.6L513.1 514.9ZM520.7 526.8L518.2 523.5L518.4 524.1L517.5 528.5ZM516.5 519.6L515.8 517.7L514.5 517.2ZM539.7 515.7L540.3 516.6L542.6 520.0L545.4 520.6L549.5 520.0L545.4 520.6L543.7 518.9L542.1 514.9ZM543.8 525.9L544.0 525.0L541.4 526.3L540.1 527.0L537.7 527.8L540.7 526.8ZM556.8 514.7L555.6 516.5L556.3 517.7L558.6 516.6L562.7 514.3L562.8 512.9ZM485.6 530.1L475.9 531.7L476.4 532.0L480.4 535.3L484.9 531.4L486.0 530.9ZM498.4 542.2L497.9 542.0L494.3 543.8L496.9 545.5ZM490.7 534.2L489.4 542.0L490.3 537.5L492.0 534.7ZM512.7 548.6L513.5 544.6L509.7 538.7L506.8 540.2L502.3 543.8L498.4 542.2L496.9 545.5L497.0 545.5L497.9 550.0L501.4 550.0L505.0 552.7L505.2 553.2ZM513.5 544.6L518.7 543.2L517.5 539.3L519.3 535.7L521.6 535.7L520.7 526.9L520.8 526.9L520.7 526.8L517.5 528.5L517.5 528.6L518.8 533.9L516.6 538.4L514.8 541.1L510.4 538.4L509.7 538.7ZM512.7 548.6L505.2 553.2L506.3 557.1L510.4 553.6L513.9 551.8L514.4 551.3ZM513.5 544.6L512.7 548.6L514.4 551.3L517.5 548.2L518.8 543.8L518.7 543.2Z" fill="#ffd6d6" stroke="#fff" stroke-opacity=".75" stroke-width=".65" stroke-linejoin="round"/>
<path d="M449.8 306.4L449.2 309.8L449.8 313.8L451.5 317.3L457.2 315.0L460.1 312.7L460.7 309.2L464.7 309.2L469.3 306.9L473.3 304.1L473.9 299.5L470.5 299.5L464.7 297.8L456.7 296.6L453.2 300.6Z" fill="#ffd6d6" stroke="#fff" stroke-opacity=".75" stroke-width=".65" stroke-linejoin="round"/>
<path d="M429.7 335.7L431.0 337.0L435.1 338.9L436.6 339.1L442.9 338.5L449.2 338.5L453.2 341.4L455.5 342.0L456.7 337.4L456.7 331.6L455.5 327.0L452.7 324.2L449.2 326.5L444.6 325.3L439.4 328.2L433.7 331.6Z" fill="#ffd6d6" stroke="#fff" stroke-opacity=".75" stroke-width=".65" stroke-linejoin="round"/>
<path d="M487.1 318.4L484.2 320.1L478.5 321.3L476.2 323.6L477.4 326.5L479.6 327.6L476.8 333.9L485.4 336.2L493.4 338.5L496.9 333.9L500.3 327.0L502.6 322.4L504.3 319.0L501.5 315.6L496.9 315.0L492.3 311.0L489.4 312.7Z" fill="#ffd6d6" stroke="#fff" stroke-opacity=".75" stroke-width=".65" stroke-linejoin="round"/>
<path d="M473.9 336.2L475.1 340.2L471.6 343.1L468.2 347.7L471.0 352.3L472.2 356.9L478.5 355.8L484.2 354.6L487.1 348.9L490.0 343.1L493.4 338.5L485.4 336.2L476.8 333.9Z" fill="#ffd6d6" stroke="#fff" stroke-opacity=".75" stroke-width=".65" stroke-linejoin="round"/>
<path d="M550.6 383.3L543.7 385.6L538.0 387.9L534.0 390.2L535.1 394.8L536.8 401.7L537.4 406.3L542.6 407.4L548.3 409.8L549.5 414.3L552.9 413.2L557.5 412.0L562.1 413.2L562.1 408.6L561.5 404.0L559.8 399.4L554.6 397.1L554.0 392.5L556.9 386.8L557.5 382.2L553.5 379.9Z" fill="#ffd6d6" stroke="#fff" stroke-opacity=".75" stroke-width=".65" stroke-linejoin="round"/>
<path d="M439.4 312.7L439.4 317.3L444.0 319.6L448.6 317.9L449.2 313.8L446.3 311.5Z" fill="#ffd6d6" stroke="#fff" stroke-opacity=".75" stroke-width=".65" stroke-linejoin="round"/>
<path d="M538.0 340.8L531.1 341.4L527.1 344.3L528.8 350.0L532.2 352.3L536.8 350.6L540.8 347.7L541.8 345.7L540.8 343.1L540.9 343.0Z" fill="#ffd6d6" stroke="#fff" stroke-opacity=".75" stroke-width=".65" stroke-linejoin="round"/>
<path d="M544.9 353.5L539.7 356.9L536.8 361.5L538.5 364.4L542.0 366.1L546.0 364.4L547.8 361.9L548.3 356.9L546.9 354.0Z" fill="#ffd6d6" stroke="#fff" stroke-opacity=".75" stroke-width=".65" stroke-linejoin="round"/>
<path d="M538.0 412.0L539.7 416.6L543.7 418.9L548.3 418.4L549.5 414.3L548.3 409.8L542.6 407.4L537.4 406.3Z" fill="#ffd6d6" stroke="#fff" stroke-opacity=".75" stroke-width=".65" stroke-linejoin="round"/>
<path d="M570.1 441.3L564.4 440.8L557.5 439.6L551.8 441.9L551.8 445.4L554.0 448.8L557.5 452.2L560.9 451.1L565.5 452.2L570.1 449.9L575.9 449.9L575.9 446.4L575.3 446.5L574.7 440.9Z" fill="#ffd6d6" stroke="#fff" stroke-opacity=".75" stroke-width=".65" stroke-linejoin="round"/>
<path d="M543.7 467.2L546.0 468.3L547.1 463.0L551.8 459.1L552.9 468.3L556.9 467.2L556.3 463.0L557.5 456.8L561.5 455.7L560.9 453.4L554.6 452.2L551.8 449.9L549.5 453.4L543.7 459.1Z" fill="#ffd6d6" stroke="#fff" stroke-opacity=".75" stroke-width=".65" stroke-linejoin="round"/>
<path d="M533.4 525.8L526.5 525.2L520.7 526.9L521.6 535.7L522.0 535.7L525.5 539.3L527.9 540.8L529.3 540.4L532.7 538.4L537.1 535.7L535.4 528.8Z" fill="#ffd6d6" stroke="#fff" stroke-opacity=".75" stroke-width=".65" stroke-linejoin="round"/>
<path d="M551.8 483.3L555.2 486.7L559.8 491.3L563.2 493.6L567.8 492.4L566.7 489.0L563.2 483.3L558.6 476.4L555.2 472.9L551.8 477.5Z" fill="#ffd6d6" stroke="#fff" stroke-opacity=".75" stroke-width=".65" stroke-linejoin="round"/>
<path d="M552.9 512.0L547.1 509.7L541.4 513.1L543.7 518.9L545.4 520.6L549.5 520.0L554.0 518.9L556.3 517.7Z" fill="#ffd6d6" stroke="#fff" stroke-opacity=".75" stroke-width=".65" stroke-linejoin="round"/>
<path d="M443.8 379.1L442.0 383.6L439.3 390.7L440.2 394.3L450.0 391.6L457.1 388.9L462.5 387.1L465.2 383.6L464.3 378.2L457.1 378.7L450.0 378.2L444.6 376.4Z" fill="#ffd6d6" stroke="#fff" stroke-opacity=".75" stroke-width=".65" stroke-linejoin="round"/>
<path d="M501.8 390.2L504.7 393.7L509.3 394.8L515.0 394.8L519.6 395.4L524.2 392.5L528.8 390.2L534.0 390.2L535.7 386.8L533.4 383.3L534.0 378.7L529.9 375.3L525.3 377.6L519.6 381.0L515.0 379.9L508.1 382.2L502.4 385.6Z" fill="#ffd6d6" stroke="#fff" stroke-opacity=".75" stroke-width=".65" stroke-linejoin="round"/>
<path d="M494.0 409.8L492.3 413.2L490.0 418.9L490.6 422.4L493.4 424.7L495.7 421.2L498.6 415.5L500.3 410.9L495.7 406.9Z" fill="#ffd6d6" stroke="#fff" stroke-opacity=".75" stroke-width=".65" stroke-linejoin="round"/>
<path d="M508.4 459.1L510.6 464.9L514.1 468.9L519.8 468.3L521.0 463.7L519.8 458.0L515.2 452.2L507.8 453.4Z" fill="#ffd6d6" stroke="#fff" stroke-opacity=".75" stroke-width=".65" stroke-linejoin="round"/>
<path d="M518.5 453.4L524.2 458.0L532.8 456.8L534.0 451.1L532.2 444.2L524.2 441.9L517.3 446.5Z" fill="#ffd6d6" stroke="#fff" stroke-opacity=".75" stroke-width=".65" stroke-linejoin="round"/>
<path d="M431.4 469.5L433.1 474.1L436.0 475.2L438.3 471.8L439.4 468.3L442.9 466.0L445.2 461.4L437.1 458.0L429.1 461.4Z" fill="#ffd6d6" stroke="#fff" stroke-opacity=".75" stroke-width=".65" stroke-linejoin="round"/>
<path d="M423.9 482.1L428.0 481.0L432.6 479.8L432.6 473.5L429.1 471.2L422.8 476.4Z" fill="#ffd6d6" stroke="#fff" stroke-opacity=".75" stroke-width=".65" stroke-linejoin="round"/>
<path d="M501.5 489.0L504.9 492.4L508.4 497.0L513.0 500.5L518.7 498.2L521.0 493.6L515.2 491.3L510.6 487.9L504.9 482.1L500.3 484.4Z" fill="#ffd6d6" stroke="#fff" stroke-opacity=".75" stroke-width=".65" stroke-linejoin="round"/>
<path d="M515.2 471.8L519.8 477.5L525.0 478.7L526.7 471.8L525.0 466.0L519.8 464.3L514.1 464.9Z" fill="#ffd6d6" stroke="#fff" stroke-opacity=".75" stroke-width=".65" stroke-linejoin="round"/>
<path d="M508.4 458.0L511.8 461.4L515.2 464.3L519.8 463.7L521.0 458.0L521.0 452.8L508.4 453.4Z" fill="#ffd6d6" stroke="#fff" stroke-opacity=".75" stroke-width=".65" stroke-linejoin="round"/>
<path d="M464.7 502.2L470.5 500.5L476.2 498.2L480.8 495.9L479.6 491.9L473.9 490.7L467.0 491.9L463.6 497.0Z" fill="#ffd6d6" stroke="#fff" stroke-opacity=".75" stroke-width=".65" stroke-linejoin="round"/>
<path d="M479.6 501.6L484.2 502.2L485.4 497.0L490.0 500.5L493.4 498.2L498.0 493.6L496.9 489.0L490.0 491.3L487.7 494.8L483.1 493.6L478.5 495.9Z" fill="#ffd6d6" stroke="#fff" stroke-opacity=".75" stroke-width=".65" stroke-linejoin="round"/>
<path d="M508.4 511.4L512.4 512.0L511.2 502.8L504.9 508.5Z" fill="#ffd6d6" stroke="#fff" stroke-opacity=".75" stroke-width=".65" stroke-linejoin="round"/>
<path d="M512.7 456.8L511.6 464.9L515.0 468.9L519.6 468.3L520.2 463.0L519.6 455.7L515.0 453.4Z" fill="#ffd6d6" stroke="#fff" stroke-opacity=".75" stroke-width=".65" stroke-linejoin="round"/>
<path d="M412.5 397.7L413.0 402.9L413.6 408.6L418.8 412.0L421.1 418.9L425.1 417.8L430.3 415.5L436.0 417.8L437.7 413.2L439.4 407.4L443.5 404.0L445.2 400.0L438.3 394.2L431.4 390.2L426.8 386.2L421.1 387.4L414.2 392.5Z" fill="#ffb3b3" stroke="#fff" stroke-opacity=".75" stroke-width=".65" stroke-linejoin="round"/>
<path d="M443.5 404.0L439.4 407.4L437.7 413.2L436.0 417.8L438.3 423.5L442.9 424.1L446.3 424.7L450.9 423.5L454.9 422.4L452.7 418.9L453.2 416.1L456.7 414.9L457.2 412.6L454.9 410.3L450.9 409.2L447.5 406.3L445.2 400.0Z" fill="#ffb3b3" stroke="#fff" stroke-opacity=".75" stroke-width=".65" stroke-linejoin="round"/>
<path d="M438.3 394.2L445.2 400.0L447.5 406.3L450.9 409.2L454.9 410.3L457.2 410.9L459.6 414.9L462.4 413.8L466.4 413.2L467.0 410.9L465.3 408.6L464.7 404.0L462.4 398.3L463.6 392.5L464.7 386.8L460.1 387.9L453.2 390.2L445.2 391.4L439.4 393.7Z" fill="#ffb3b3" stroke="#fff" stroke-opacity=".75" stroke-width=".65" stroke-linejoin="round"/>
<path d="M463.6 392.5L462.4 398.3L464.7 404.0L465.3 408.6L467.6 410.9L469.3 413.2L472.8 412.6L475.6 408.6L475.1 402.9L474.5 397.1L478.5 393.7L476.8 389.1L472.8 384.5L471.6 379.9L469.3 377.6L467.0 382.2L464.7 386.8Z" fill="#ffb3b3" stroke="#fff" stroke-opacity=".75" stroke-width=".65" stroke-linejoin="round"/>
<path d="M461.3 420.1L462.4 423.5L464.7 429.3L459.0 432.7L457.8 437.3L462.4 439.6L469.3 440.8L473.9 441.9L478.5 446.5L480.8 441.9L484.2 439.6L485.4 433.9L484.2 428.1L479.6 424.1L476.8 418.9L473.9 415.5L472.8 413.2L467.0 414.9L462.4 416.1Z" fill="#ffb3b3" stroke="#fff" stroke-opacity=".75" stroke-width=".65" stroke-linejoin="round"/>
<path d="M484.2 428.1L487.7 431.6L492.3 432.7L496.9 431.6L494.6 427.0L490.0 422.4L485.4 418.4L481.9 418.9L479.6 424.1Z" fill="#ffb3b3" stroke="#fff" stroke-opacity=".75" stroke-width=".65" stroke-linejoin="round"/>
<path d="M495.7 440.8L494.6 447.6L496.9 453.4L503.8 455.7L508.4 453.4L513.0 447.6L511.8 441.9L506.1 440.8L502.6 432.7L498.0 435.0Z" fill="#ffb3b3" stroke="#fff" stroke-opacity=".75" stroke-width=".65" stroke-linejoin="round"/>
<path d="M456.1 368.4L455.5 378.0L460.1 381.0L464.7 383.3L469.3 382.2L471.0 378.0L473.9 374.1L479.6 370.7L486.0 366.1L487.7 361.5L485.4 359.2L484.2 354.6L478.5 355.8L472.2 356.9L471.0 352.3L468.2 347.7L464.1 346.6L461.3 347.7L458.4 348.3L455.5 352.3L453.8 355.8L452.1 359.2L452.2 359.3L452.7 358.6L454.9 356.8L457.6 360.4L457.1 364.4L455.8 365.5Z" fill="#ffb3b3" stroke="#fff" stroke-opacity=".75" stroke-width=".65" stroke-linejoin="round"/>
<path d="M545.4 366.1L535.7 366.1L532.2 370.7L529.9 378.0L531.1 375.3L534.0 378.7L536.2 383.3L538.0 387.9L543.7 385.6L550.6 383.3L552.9 377.7L551.8 370.7L549.5 367.2ZM552.9 377.7L552.9 378.0L552.9 377.7Z" fill="#ffb3b3" stroke="#fff" stroke-opacity=".75" stroke-width=".65" stroke-linejoin="round"/>
<path d="M520.7 430.4L526.5 432.7L533.4 428.1L537.4 422.4L535.7 416.6L532.2 413.2L528.8 417.2L518.5 422.4Z" fill="#ffb3b3" stroke="#fff" stroke-opacity=".75" stroke-width=".65" stroke-linejoin="round"/>
<path d="M535.1 455.7L541.4 456.8L547.1 453.4L548.3 446.5L544.9 441.9L534.5 444.2Z" fill="#ffb3b3" stroke="#fff" stroke-opacity=".75" stroke-width=".65" stroke-linejoin="round"/>
<path d="M478.7 510.7L479.1 515.2L476.4 519.6L474.2 523.2L478.2 524.1L481.8 525.0L485.4 526.8L488.9 527.7L492.5 531.2L494.3 529.5L496.5 525.0L497.0 519.6L497.4 515.2L497.9 510.7L496.5 508.5L490.7 506.7L486.7 506.2L485.4 509.8L481.8 508.0L478.2 506.2Z" fill="#ffb3b3" stroke="#fff" stroke-opacity=".75" stroke-width=".65" stroke-linejoin="round"/>
<path d="M579.3 498.2L575.9 494.8L570.1 493.0L564.4 495.9L564.4 503.9L569.0 506.2L574.7 505.1L581.6 503.4L581.6 503.4Z" fill="#ffb3b3" stroke="#fff" stroke-opacity=".75" stroke-width=".65" stroke-linejoin="round"/>
<path d="M502.6 322.4L500.3 327.0L496.9 333.9L493.4 338.5L490.0 343.1L487.1 348.9L484.2 354.6L485.4 359.2L487.7 361.5L486.0 366.1L490.0 366.1L492.3 368.4L496.9 370.1L498.0 373.0L501.5 375.3L506.1 378.7L510.6 379.9L515.2 378.7L519.8 379.9L524.4 383.3L523.0 378.0L525.3 375.3L527.6 370.7L532.2 367.2L534.0 363.8L533.4 356.9L529.9 353.5L525.3 350.0L524.8 343.1L520.7 338.5L519.6 333.9L515.0 330.5L518.7 331.6L513.0 327.0L507.2 321.3L504.3 319.0Z" fill="#ff8c8c" stroke="#fff" stroke-opacity=".75" stroke-width=".65" stroke-linejoin="round"/>
<path d="M507.2 394.8L504.9 397.1L503.8 401.7L501.5 405.1L504.9 406.3L510.6 407.4L513.0 409.8L510.6 414.3L513.0 417.8L517.5 420.1L521.9 420.1L528.8 417.2L532.2 413.2L534.5 408.6L535.1 401.7L532.2 398.3L530.5 393.1L527.6 391.9L520.7 396.0L515.0 399.4L519.8 396.0L514.1 394.8L509.5 392.5Z" fill="#ff8c8c" stroke="#fff" stroke-opacity=".75" stroke-width=".65" stroke-linejoin="round"/>
<path d="M502.6 408.6L503.8 413.2L507.2 415.5L510.6 414.3L513.0 409.8L510.6 407.4L504.9 406.3L501.5 405.1Z" fill="#ff8c8c" stroke="#fff" stroke-opacity=".75" stroke-width=".65" stroke-linejoin="round"/>
<path d="M459.0 497.0L454.4 491.3L455.5 488.4L460.1 485.6L463.6 482.1L467.0 479.8L470.5 476.9L468.7 472.9L464.7 469.5L461.3 465.5L455.5 468.3L450.9 464.9L445.2 466.6L439.4 468.3L438.3 471.8L436.0 475.2L433.1 474.1L432.6 479.8L428.5 484.4L429.7 490.1L427.4 495.9L429.1 498.8L434.9 493.6L436.0 487.9L439.4 487.3L441.8 492.4L444.0 497.0L447.5 493.6L450.9 492.4L455.5 494.8L461.3 501.6Z" fill="#ff8c8c" stroke="#fff" stroke-opacity=".75" stroke-width=".65" stroke-linejoin="round"/>
<path d="M476.8 470.6L473.9 470.1L471.6 471.8L472.8 475.2L476.2 477.5L479.6 481.0L483.1 486.7L484.2 491.3L486.5 487.9L490.0 489.0L492.3 486.7L496.9 483.3L502.0 479.2L500.3 475.2L499.2 469.5L500.9 462.6L498.0 459.1L492.3 458.0L485.4 459.1L478.5 463.7Z" fill="#ff8c8c" stroke="#fff" stroke-opacity=".75" stroke-width=".65" stroke-linejoin="round"/>
<path d="M484.2 463.0L485.4 464.9L492.3 463.7L498.0 464.9L499.2 463.0L495.7 455.7L490.0 453.4L487.7 449.9L483.1 451.1Z" fill="#ff8c8c" stroke="#fff" stroke-opacity=".75" stroke-width=".65" stroke-linejoin="round"/>
<path d="M497.9 542.0L502.3 543.8L506.8 540.2L510.4 538.4L514.8 541.1L516.6 538.4L518.8 533.9L517.5 528.6L518.4 524.1L516.6 519.6L513.5 516.1L512.1 517.4L508.6 515.2L503.2 512.5L497.9 510.7L497.4 515.2L497.0 519.6L496.5 525.0L494.3 529.5L492.5 533.9L490.3 537.5L489.4 542.0L490.7 545.5L494.3 543.8Z" fill="#ff8c8c" stroke="#fff" stroke-opacity=".75" stroke-width=".65" stroke-linejoin="round"/>
<path d="M516.1 471.8L518.5 475.2L519.6 481.0L521.9 486.7L520.7 491.3L523.0 495.3L527.6 499.3L532.2 502.2L534.5 501.6L538.0 503.9L540.3 501.6L544.9 497.0L546.0 492.4L548.3 487.9L548.9 482.1L549.5 477.5L551.8 471.8L554.6 466.6L552.9 463.7L543.7 462.6L539.1 460.3L534.5 463.7L528.8 466.0L520.7 465.5L515.0 468.3Z" fill="#ff8c8c" stroke="#fff" stroke-opacity=".75" stroke-width=".65" stroke-linejoin="round"/>
<path d="M592.5 455.7L595.4 455.7L594.2 458.0L593.1 462.6L588.5 464.3L579.3 462.6L573.6 462.6L574.7 466.0L578.2 469.5L582.8 471.8L585.0 475.2L587.4 472.9L589.6 475.2L593.1 478.7L596.5 482.1L600.0 486.7L603.4 492.4L605.1 495.9L606.3 492.4L608.0 486.7L609.2 481.0L611.5 475.2L614.9 472.9L618.4 469.5L619.5 463.7L617.2 463.0L616.1 454.5L610.3 459.1L604.6 460.3L600.5 455.7L597.7 449.9Z" fill="#ff8c8c" stroke="#fff" stroke-opacity=".75" stroke-width=".65" stroke-linejoin="round"/>
<path d="M480.2 293.7L476.2 295.5L473.9 299.5L473.3 304.1L469.3 306.9L464.7 309.2L460.7 309.2L460.1 312.7L457.2 315.0L451.5 317.3L449.2 318.4L448.6 321.3L447.5 324.8L449.2 326.5L452.7 324.2L455.5 327.0L456.7 331.6L456.7 337.4L455.5 342.0L457.8 343.1L458.4 348.3L461.3 347.7L464.1 346.6L468.2 347.7L471.6 343.1L475.1 340.2L473.9 336.2L476.8 333.9L479.6 327.6L477.4 326.5L476.2 323.6L478.5 321.3L484.2 320.1L487.1 318.4L485.4 316.1L481.4 312.1L478.5 313.3L473.9 310.4L472.8 307.5L475.6 305.8L479.6 302.9L481.4 298.3Z" fill="#ff5e5e" stroke="#fff" stroke-opacity=".75" stroke-width=".65" stroke-linejoin="round"/>
<path d="M453.6 355.0L455.4 351.4L457.1 347.9L457.1 344.7L453.6 342.5L451.3 339.8L448.7 338.5L444.6 339.8L439.3 338.0L436.2 339.4L436.2 343.4L438.4 345.2L442.0 347.0L444.6 349.6L446.4 354.1L445.5 358.6L446.4 361.7L450.0 363.0L452.7 358.6Z" fill="#ff5e5e" stroke="#fff" stroke-opacity=".75" stroke-width=".65" stroke-linejoin="round"/>
<path d="M557.5 412.0L552.9 413.2L549.5 416.1L546.0 418.9L542.6 418.9L539.7 418.4L536.8 424.7L532.2 429.3L526.5 432.7L520.7 433.3L523.6 437.3L526.5 440.8L532.2 443.1L538.0 442.5L543.7 439.6L549.5 439.6L554.0 438.5L559.8 439.0L562.1 437.3L566.7 438.5L570.7 439.0L570.7 436.7L566.1 433.9L563.8 430.4L564.4 425.8L562.7 421.2L564.4 416.6L562.1 413.2Z" fill="#ff5e5e" stroke="#fff" stroke-opacity=".75" stroke-width=".65" stroke-linejoin="round"/>
<path d="M471.6 379.9L472.8 384.5L476.8 389.1L478.5 393.7L474.5 397.1L475.1 402.9L475.6 408.6L473.3 412.0L473.9 415.5L476.8 418.9L479.6 424.1L481.9 418.9L485.4 418.4L487.7 415.5L490.0 412.0L493.4 407.4L495.7 405.7L499.2 408.0L501.5 405.1L503.8 401.7L504.9 397.1L507.2 394.8L509.5 392.5L508.9 383.3L506.1 380.5L501.5 379.3L496.9 377.6L495.7 373.0L493.4 369.6L490.0 366.1L485.4 368.4L479.6 371.9L473.9 375.3Z" fill="#ff0000" stroke="#fff" stroke-opacity=".75" stroke-width=".65" stroke-linejoin="round"/>
<path d="M456.9 412.6L456.4 414.9L453.2 416.1L452.7 418.9L454.9 422.4L459.0 422.9L461.3 420.1L462.4 417.2L469.3 415.7L474.1 415.7L473.6 411.5L468.4 412.6L467.9 410.0L466.8 409.8L466.1 412.6L462.4 413.2L459.0 414.3L457.2 410.7L455.3 410.0Z" fill="#ff0000" stroke="#fff" stroke-opacity=".75" stroke-width=".65" stroke-linejoin="round"/>
<path d="M542.6 520.0L540.3 516.6L537.4 512.0L534.5 507.4L532.2 502.2L527.6 499.3L523.0 495.3L517.5 499.3L512.4 501.6L513.5 509.7L512.9 516.6L515.8 517.7L518.1 523.5L521.0 527.1L526.5 525.2L533.4 525.8L535.4 528.8L535.4 528.6L540.1 527.0L541.4 526.3L544.0 525.0L544.3 523.2L545.4 520.6Z" fill="#ff0000" stroke="#fff" stroke-opacity=".75" stroke-width=".65" stroke-linejoin="round"/>
<circle cx="489.9" cy="296.2" r="1.1" fill="#ff5e5e"/></g>
<g font-family="Liberation Sans, sans-serif" font-size="13" fill="#4c5773" stroke="#4c5773" stroke-width=".2"><circle cx="357.2" cy="593.9" r="5" fill="#ffd7da" stroke="none"/><text x="369.8" y="598.9" textLength="32" lengthAdjust="spacingAndGlyphs">0 - 13</text><circle cx="416.9" cy="593.9" r="5" fill="#ffb1b4" stroke="none"/><text x="430" y="598.9" textLength="39.9" lengthAdjust="spacingAndGlyphs">14 - 30</text><circle cx="485" cy="593.9" r="5" fill="#fc8e92" stroke="none"/><text x="496.8" y="598.9" textLength="39.9" lengthAdjust="spacingAndGlyphs">34 - 59</text><circle cx="552.3" cy="593.9" r="5" fill="#f9636a" stroke="none"/><text x="564.4" y="598.9" textLength="47.9" lengthAdjust="spacingAndGlyphs">85 - 103</text><circle cx="628" cy="593.9" r="5" fill="#ec0010" stroke="none"/><text x="640" y="598.9" textLength="32.3" lengthAdjust="spacingAndGlyphs">277 +</text></g>
</svg>
</div>
<div class="card" style="left:710px;top:231px;width:383px;height:400px">
  <div class="ttl" style="left:13px;top:9px">Tasso positivi x 1000</div>
  <svg style="position:absolute;left:-1px;top:-1px" width="383" height="400" viewBox="710 231 383 400">
<g transform="translate(385.3,-9)"><path d="M416.5 470.6L422.2 474.1L421.6 479.8L416.5 482.7L414.2 486.7L417.6 490.1L424.5 492.4L427.4 495.9L429.1 498.8L434.9 494.2L438.3 497.6L444.0 497.0L447.5 493.6L450.9 492.4L455.5 494.8L461.3 501.6L461.2 505.4L462.1 513.4L466.6 517.9L467.1 522.5L468.8 526.8L471.1 528.2L472.9 530.5L476.4 532.0L480.4 535.3L484.9 531.4L487.1 530.4L490.7 533.9L489.4 542.0L490.7 545.5L494.3 543.8L497.0 545.5L497.9 550.0L501.4 550.0L505.0 552.7L506.3 557.1L510.4 553.6L513.9 551.8L517.5 548.2L518.8 543.8L517.5 539.3L519.3 535.7L522.0 535.7L525.5 539.3L528.2 541.1L532.7 538.4L537.1 535.7L535.4 528.6L540.7 526.8L543.8 525.9L544.3 523.2L545.4 520.6L549.5 520.0L554.0 518.9L558.6 516.6L562.7 514.3L563.2 509.7L569.0 506.2L574.7 505.1L580.5 503.9L583.9 502.2L589.6 502.8L595.4 500.5L598.8 498.2L602.3 494.8L605.1 495.9L606.3 492.4L608.0 486.7L609.2 481.0L611.5 475.2L614.9 472.9L618.4 469.5L619.5 463.7L617.2 463.0L616.1 454.5L610.3 459.1L604.6 460.3L600.5 455.7L597.7 449.9L595.4 452.2L591.9 446.5L587.4 442.5L580.5 445.4L575.3 446.5L574.7 440.8L570.7 439.0L570.7 436.7L566.1 433.9L563.8 430.4L564.4 425.8L562.7 421.2L564.4 416.6L562.1 413.2L562.1 408.6L561.5 404.0L559.8 399.4L554.6 397.1L554.0 392.5L556.9 386.8L557.5 382.2L553.5 379.9L552.9 378.0L551.8 370.7L549.5 367.2L545.4 366.1L547.7 362.6L548.3 356.9L546.0 352.3L542.6 347.7L540.8 343.1L542.0 339.7L544.3 337.4L543.1 333.9L542.6 327.0L536.8 327.6L534.5 333.4L527.6 332.2L522.5 333.9L518.7 331.6L518.7 331.6L513.0 327.0L507.2 321.3L504.3 319.0L501.5 315.6L496.9 315.0L492.3 311.0L489.4 312.7L487.1 318.4L485.4 316.1L481.4 312.1L478.5 313.3L473.9 310.4L475.6 305.8L479.6 302.9L481.4 298.3L480.2 293.7L476.2 295.5L473.9 299.5L470.5 299.5L464.7 297.8L456.7 296.6L453.2 300.6L449.8 306.4L449.2 309.8L449.2 313.8L446.3 311.5L439.4 312.7L439.4 317.3L444.0 319.6L448.6 317.9L449.2 318.4L448.6 321.3L447.5 324.8L444.6 325.3L439.4 328.2L433.7 331.6L429.7 335.7L429.5 336.2L436.2 339.4L436.2 343.4L438.4 345.2L442.0 347.0L444.6 349.6L446.4 354.1L445.5 358.6L446.4 361.7L450.0 363.0L452.7 358.6L454.9 356.8L457.6 360.4L457.1 364.4L453.6 367.5L448.2 370.2L442.0 372.9L439.3 374.6L431.2 372.0L429.5 378.2L427.7 384.5L422.3 386.2L421.1 387.4L414.2 392.5L412.5 397.7L413.0 402.9L413.6 408.6L418.8 412.0L421.1 418.9L418.8 423.5L417.6 430.4L416.5 437.3L414.8 441.9L416.5 446.5L411.9 453.4L409.6 458.0L409.4 459.9L411.9 464.9ZM409.0 463.0L409.4 459.9L408.4 458.0Z" fill="#ffd6d6" stroke="#fff" stroke-width="1"/>
<path d="M474.9 307.6L475.6 305.8L472.8 307.5L473.5 309.3ZM448.6 317.9L449.2 318.4L451.5 317.3L449.8 313.8L449.2 309.8L449.2 313.8ZM473.5 309.3L473.9 310.4L474.9 307.6ZM445.5 338.6L445.9 338.8L446.7 338.5L446.7 338.5L445.5 338.5ZM449.2 326.5L447.5 324.8L444.6 325.3ZM524.8 333.2L522.5 333.9L518.7 331.6L518.7 331.6L515.0 330.5L519.6 333.9L520.7 338.5L521.5 339.4ZM537.2 334.2L535.0 332.1L534.5 333.4L527.6 332.2L524.8 333.2L521.5 339.4L524.8 343.1L524.8 343.3L527.2 344.8L527.1 344.3L531.1 341.4L532.7 341.3ZM543.5 335.0L543.1 333.9L542.6 327.0L536.8 327.6L535.0 332.1L537.2 334.2ZM445.9 338.8L445.5 338.6L441.2 338.7L444.6 339.8L445.9 339.4ZM436.9 339.1L436.6 339.1L435.1 338.9L436.2 339.4ZM446.7 338.5L445.9 338.8L445.9 339.4L447.6 338.8ZM455.5 342.0L453.2 341.4L451.8 340.4L453.6 342.5L457.1 344.7L457.1 347.9L455.4 351.4L453.6 355.0L453.0 357.4L453.8 355.8L455.5 352.3L458.4 348.3L457.8 343.1ZM531.7 352.0L528.8 350.0L527.2 344.8L524.8 343.3L525.3 350.0L529.9 353.5L530.5 354.1ZM545.1 351.1L542.6 347.7L541.8 345.7L540.8 347.7L536.8 350.6L535.1 351.2ZM537.2 334.2L532.7 341.3L538.0 340.8L540.9 343.0L542.0 339.7L544.3 337.4L543.5 335.0ZM450.6 370.2L456.0 370.1L456.1 368.4L455.8 365.5L453.6 367.5L450.2 369.2ZM488.2 366.1L486.0 366.1L479.6 370.7L476.0 372.8L476.5 373.7L479.6 371.9L485.4 368.4L488.7 366.7ZM494.8 369.3L492.3 368.4L490.0 366.1L488.2 366.1L488.7 366.7L490.0 366.1L493.4 369.6L493.5 369.7ZM533.2 365.4L532.2 367.2L527.6 370.7L527.4 371.2L531.0 372.1L532.0 371.3L532.2 370.7L534.4 367.8ZM534.4 367.8L535.7 366.1L542.0 366.1L538.5 364.4L536.8 361.5L539.7 356.9L544.9 353.5L546.9 354.0L546.0 352.3L545.1 351.1L535.1 351.2L532.2 352.3L531.7 352.0L530.5 354.1L533.4 356.9L534.0 363.8L533.2 365.4ZM547.8 361.9L546.0 364.4L542.0 366.1L545.4 366.1L547.7 362.6ZM437.5 380.0L436.1 373.6L431.2 372.0L429.5 378.2L429.4 378.5ZM450.6 370.2L450.2 369.2L448.2 370.2L442.0 372.9L439.3 374.6L436.1 373.6L437.5 380.0L441.4 385.1L442.0 383.6L443.8 379.1L444.6 376.4L449.0 377.9ZM450.6 370.2L449.0 377.9L450.0 378.2L456.4 378.6L455.5 378.0L456.0 370.1ZM476.0 372.8L473.9 374.1L471.0 378.0L470.7 378.9L471.6 379.9L473.9 375.3L476.5 373.7ZM466.0 384.3L466.7 382.8L465.1 383.2L465.2 383.6L464.8 384.1ZM493.5 369.7L495.7 373.0L496.9 377.6L501.5 379.3L504.4 380.1L501.8 375.5L501.5 375.3L498.0 373.0L496.9 370.1L494.8 369.3ZM504.4 380.1L506.1 380.5L507.9 382.3L508.1 382.2L514.6 380.0L514.8 378.8L510.6 379.9L506.1 378.7L501.8 375.5ZM527.4 371.2L525.3 375.3L523.0 378.0L523.3 378.8L525.3 377.6L529.9 375.3L530.0 375.4L531.0 372.1ZM514.6 380.0L515.0 379.9L519.6 381.0L520.6 380.4L519.8 379.9L515.2 378.7L514.8 378.8ZM531.0 372.1L530.0 375.4L530.6 375.9L532.0 371.3ZM535.6 382.1L534.0 378.7L533.6 381.6ZM530.8 376.0L534.0 378.7L531.1 375.3ZM551.7 381.4L553.5 379.8L552.9 378.0L552.9 377.7L551.4 381.3ZM421.4 387.3L426.8 386.2L431.4 390.2L435.5 392.6L436.7 392.7L439.5 391.6L439.3 390.7L441.4 385.1L437.5 380.0L429.4 378.5L427.7 384.5L422.3 386.2L421.4 387.1ZM464.8 384.1L462.5 387.1L460.2 387.9L464.7 386.8L466.0 384.3ZM523.5 392.9L519.6 395.4L515.0 394.8L514.1 394.8L519.8 396.0L515.0 399.4L520.7 396.0L523.2 394.5ZM534.4 391.9L534.0 390.2L530.5 390.2ZM533.6 381.6L533.4 383.3L535.7 386.8L534.0 390.2L538.0 387.9L536.2 383.3L535.6 382.1ZM436.7 392.7L436.5 393.2L438.3 394.2L439.4 393.7L440.0 393.5L439.5 391.6ZM502.5 408.2L501.5 405.1L500.2 406.8ZM536.1 408.5L537.4 406.5L537.4 406.3L536.8 401.7L535.1 394.8L534.4 391.9L530.5 390.2L528.8 390.2L524.2 392.5L523.5 392.9L523.2 394.5L527.6 391.9L530.5 393.1L532.2 398.3L535.1 401.7L534.5 408.3ZM433.7 419.3L434.6 417.2L430.3 415.5L427.3 416.8ZM437.4 424.7L439.0 424.5L437.7 423.5L437.8 422.4L436.0 417.8L434.6 417.2L433.7 419.3ZM461.5 420.6L461.3 420.1L461.0 420.4ZM455.6 410.5L454.9 410.3L456.4 411.7ZM459.2 414.3L457.8 411.9L459.0 414.3ZM465.3 408.6L466.6 410.4L466.7 410.0ZM468.8 412.5L468.2 411.8L468.4 412.6ZM488.2 414.8L487.7 415.5L485.4 418.4L487.5 420.2ZM473.6 411.7L475.6 408.6L473.6 411.5ZM497.7 425.7L505.3 423.3L507.1 415.4L503.8 413.2L502.6 408.6L502.5 408.2L500.2 406.8L499.2 408.0L495.7 405.7L493.4 407.4L490.0 412.0L488.2 414.8L487.5 420.2L490.0 422.4L492.3 424.7ZM493.4 424.7L490.6 422.4L490.0 418.9L492.3 413.2L494.0 409.8L495.7 406.9L500.3 410.9L498.6 415.5L495.7 421.2ZM520.5 420.1L517.5 420.1L513.0 417.8L510.6 414.3L507.2 415.5L507.1 415.4L505.3 423.3L512.3 427.7L519.5 426.0L518.5 422.4L520.4 421.4ZM529.2 431.1L530.5 430.3L530.7 429.9L529.1 431.0ZM538.7 414.4L536.1 408.5L534.5 408.3L534.5 408.6L532.2 413.2L535.7 416.6L536.4 418.9ZM520.4 421.4L528.8 417.2L521.9 420.1L520.5 420.1ZM536.1 408.5L538.7 414.4L538.9 414.5L538.0 412.0L537.4 406.5ZM549.5 414.3L548.8 416.6L549.5 416.1L552.9 413.2ZM423.8 437.3L424.0 437.0L419.4 422.3L418.8 423.5L417.6 430.4L416.9 434.6ZM437.4 424.7L433.7 419.3L427.3 416.8L425.1 417.8L421.1 418.9L419.4 422.3L424.0 437.0L432.3 434.7L435.3 428.8L436.0 427.0L436.3 426.9ZM436.3 426.9L440.6 425.8L439.0 424.5L437.4 424.7ZM432.3 434.7L437.6 439.4L437.7 438.5L444.0 437.9L438.3 437.3L434.9 436.2L434.3 431.6L435.3 428.8ZM450.0 438.4L444.0 437.9L449.5 438.8ZM450.2 423.7L449.1 424.0L448.6 424.7L450.3 424.7ZM450.3 424.7L453.2 424.7L459.0 425.2L463.0 427.0L463.6 429.3L459.0 432.7L464.5 429.4L464.6 429.0L462.4 423.5L461.5 420.6L461.0 420.4L459.0 422.9L454.9 422.4L450.9 423.5L450.2 423.7ZM461.4 441.0L461.8 439.3L457.8 437.3L459.0 432.7L455.5 437.3L453.3 437.9ZM461.4 441.0L461.6 441.3L465.4 440.1L462.4 439.6L461.8 439.3ZM464.5 429.4L464.7 429.3L464.6 429.0ZM491.4 438.6L499.0 441.6L500.3 438.5L500.9 437.0L497.7 425.7L492.3 424.7L494.6 427.0L496.9 431.6L492.3 432.7L490.6 432.3ZM510.8 438.5L512.3 427.7L505.3 423.3L497.7 425.7L500.9 437.0L502.6 432.7L506.1 437.3L506.7 439.9ZM512.3 427.7L510.8 438.5L519.6 445.0L520.8 444.2L524.6 438.5L523.6 437.3L520.7 433.3L526.5 432.7L520.7 430.4L519.5 426.0ZM529.1 431.0L526.5 432.7L529.2 431.1ZM530.5 430.3L532.2 429.3L536.8 424.7L539.7 418.4L542.6 418.9L543.7 418.9L539.7 416.6L538.9 414.5L538.7 414.4L536.4 418.9L537.4 422.4L533.4 428.1L530.7 429.9ZM546.4 418.6L543.7 418.9L546.0 418.9ZM566.3 440.9L570.1 441.3L574.7 440.9L574.7 440.8L570.7 439.0L566.7 438.5L564.0 437.8ZM416.9 434.6L416.5 437.3L414.8 441.9L416.5 446.5L416.4 446.7L418.8 443.7L418.8 443.6L418.9 443.6L423.5 438.1L423.8 437.3ZM443.0 445.9L441.8 446.5L437.7 449.9L437.1 444.2L437.6 439.4L432.3 434.7L424.0 437.0L423.8 437.3L423.5 438.1L434.6 457.1L435.9 456.9L443.1 447.5ZM443.1 447.5L454.1 453.4L462.6 452.5L463.3 451.3L461.6 441.3L461.4 441.0L453.3 437.9L450.9 438.5L450.0 438.4L449.5 438.8L450.9 439.0L452.1 441.9L450.9 446.5L449.2 449.4L445.2 444.8L443.0 445.9ZM480.1 443.2L478.5 446.5L473.9 441.9L469.3 440.8L465.4 440.1L461.6 441.3L463.3 451.3L480.4 448.3L481.2 446.2ZM481.2 446.2L483.5 445.5L491.4 438.6L490.6 432.3L487.7 431.6L484.2 428.1L485.4 433.9L484.2 439.6L480.8 441.9L480.1 443.2ZM491.4 438.6L483.5 445.5L496.8 447.8L498.0 444.2L499.0 441.6ZM510.8 438.5L506.7 439.9L507.2 441.9L511.8 440.8L514.1 446.5L515.2 452.2L515.9 453.1L518.4 452.9L517.3 446.5L519.6 445.0ZM534.8 449.2L534.5 444.2L539.9 443.0L540.0 441.5L538.0 442.5L532.2 443.1L526.5 440.8L524.6 438.5L520.8 444.2L524.2 441.9L532.2 444.2L533.6 449.5ZM539.9 443.0L544.9 441.9L548.3 446.5L547.8 449.7L551.4 450.4L551.8 449.9L552.7 450.7L556.3 451.4L556.2 450.9L554.0 448.8L551.8 445.4L551.8 441.9L553.2 441.3L552.4 438.9L549.5 439.6L543.7 439.6L540.0 441.5ZM553.2 441.3L557.5 439.6L564.4 440.8L566.3 440.9L564.0 437.8L562.1 437.3L559.8 439.0L554.0 438.5L552.4 438.9ZM556.3 451.4L557.5 452.2L556.2 450.9ZM558.5 452.9L560.9 453.4L561.3 454.8L565.1 452.1L560.9 451.1L557.5 452.2ZM575.8 454.8L585.0 450.3L584.4 443.7L580.5 445.4L575.9 446.4L575.9 449.9L570.1 449.9L568.8 450.6ZM585.0 450.3L590.9 454.2L594.8 451.3L591.9 446.5L587.4 442.5L584.4 443.7ZM419.7 459.0L415.3 448.2L411.9 453.4L409.6 458.0L409.4 459.9L410.4 461.9ZM409.1 461.9L409.4 459.9L408.4 458.0L408.9 461.8ZM419.7 459.0L423.9 462.5L434.6 457.1L423.5 438.1L418.9 443.6L422.2 443.1L422.8 446.5L419.4 447.6L418.8 443.7L416.4 446.7L415.3 448.2ZM422.2 458.0L419.9 454.5L428.0 451.1L430.3 452.2L428.0 456.8ZM448.1 464.8L454.1 453.4L443.1 447.5L435.9 456.9L437.0 458.1L437.1 458.0L445.2 461.4L443.6 464.6ZM465.5 465.1L465.6 464.8L462.6 452.5L454.1 453.4L448.1 464.8L448.9 465.5L450.9 464.9L455.2 468.1L457.0 467.6L461.3 465.5L461.9 466.2ZM463.3 451.3L462.6 452.5L465.6 464.8L479.3 463.2L483.8 460.2L483.9 459.9L483.7 457.9L480.4 448.3ZM481.2 446.2L480.4 448.3L483.7 457.9L483.1 451.1L487.7 449.9L490.0 453.4L495.7 455.7L496.5 457.4L497.8 454.1L496.9 453.4L495.7 451.1L496.8 447.8L483.5 445.5ZM496.5 457.4L497.3 459.0L498.0 459.1L500.9 462.6L500.8 463.1L503.3 465.9L509.6 462.3L508.4 459.1L508.1 456.9L506.1 458.0L501.5 456.8L497.8 454.1ZM527.7 457.5L524.2 458.0L521.0 455.4L521.0 458.0L520.4 460.9L521.0 463.7L520.8 464.6L524.0 465.7L528.8 466.0L534.4 463.8ZM533.6 449.5L534.0 451.1L532.8 456.8L527.7 457.5L534.4 463.8L534.5 463.7L539.1 460.3L539.5 460.5L540.2 459.6L540.1 456.6L535.1 455.7L534.8 449.2ZM552.7 450.7L554.6 452.2L558.5 452.9L557.5 452.2L557.5 452.2L557.5 452.2L556.3 451.4ZM547.8 449.7L547.1 453.4L545.2 454.6L548.3 454.6L549.5 453.4L551.4 450.4ZM540.2 459.6L543.7 460.4L543.7 459.1L543.7 455.5L541.4 456.8L540.1 456.6ZM552.1 462.2L552.0 461.1L550.9 462.0ZM559.9 459.8L560.9 455.8L557.5 456.8L557.5 461.1ZM582.0 462.9L575.8 454.8L568.8 450.6L565.5 452.2L565.1 452.1L561.3 454.8L561.5 455.7L560.9 455.8L559.9 459.8L567.3 472.2L575.6 467.0L574.7 466.0L574.7 466.0L574.1 466.0L573.6 463.0L573.7 462.8L573.6 462.6L573.7 462.6L575.9 457.4L578.0 462.6L579.3 462.6L581.8 463.1ZM590.9 454.2L585.0 450.3L575.8 454.8L582.0 462.9L583.1 463.3L587.3 464.1ZM590.9 454.2L587.3 464.1L588.5 464.3L593.1 462.6L594.2 458.0L595.4 455.7L592.5 455.7L597.7 449.9L595.4 452.2L594.8 451.3ZM423.3 473.0L423.9 462.5L419.7 459.0L410.4 461.9L411.9 464.9L416.5 470.6L420.9 473.3ZM442.2 466.5L439.4 468.3L441.8 467.6ZM432.2 480.2L432.6 479.8L430.7 480.3ZM435.9 456.9L434.6 457.1L423.9 462.5L423.3 473.0L424.6 474.9L429.1 471.2L432.6 473.5L432.6 479.8L433.1 474.1L431.4 469.5L429.1 461.4L437.0 458.1ZM441.8 467.6L445.2 466.6L448.9 465.5L448.1 464.8L443.6 464.6L442.9 466.0L442.2 466.5ZM465.5 465.1L461.9 466.2L464.7 469.5L466.6 471.1ZM455.2 468.1L455.5 468.3L457.0 467.6ZM471.1 479.2L471.9 479.5L475.1 478.7L476.0 479.9L477.1 478.5L476.2 477.5L475.7 477.2L473.9 476.9L473.7 475.9L472.8 475.2L471.6 471.8L472.9 470.8L472.8 469.5L476.9 470.3L478.5 463.7L479.3 463.2L465.6 464.8L465.5 465.1L466.6 471.1L468.7 472.9L470.5 476.9L470.0 477.4ZM500.8 463.1L499.2 469.5L500.3 475.2L500.4 475.6L501.8 474.2L503.3 465.9ZM483.8 460.2L484.0 460.1L483.9 459.9ZM503.3 465.9L501.8 474.2L516.0 478.0L518.1 475.4L515.2 471.8L514.8 468.8L514.1 468.9L510.6 464.9L509.6 462.3ZM550.9 462.0L549.5 463.2L547.2 462.9L547.2 463.0L552.3 463.7L552.1 462.2ZM540.2 459.6L539.5 460.5L543.7 462.6L543.7 460.4ZM567.7 478.2L567.3 472.2L559.9 459.8L557.5 461.1L557.5 463.2L556.4 462.5L556.3 463.0L556.9 467.2L553.8 468.0L551.8 471.8L550.2 475.6L551.8 477.8L551.8 477.5L555.2 472.9L558.6 476.4L562.7 482.4ZM567.7 478.2L575.9 481.3L580.9 481.5L584.9 475.0L582.8 471.8L578.2 469.5L575.6 467.0L567.3 472.2ZM582.0 462.9L581.8 463.1L583.1 463.3ZM423.3 473.0L420.9 473.3L422.2 474.1L421.6 479.8L416.5 482.7L414.2 486.7L415.5 488.0L415.9 488.2L423.8 481.4L422.8 476.4L424.6 474.9ZM415.9 488.2L416.0 488.5L417.6 490.1L424.5 492.4L427.0 495.5L428.3 493.7L429.1 491.7L429.3 488.3L428.5 484.4L429.7 483.1L429.9 480.5L428.0 481.0L423.9 482.1L423.8 481.4ZM430.7 480.3L429.9 480.5L429.7 483.1L432.2 480.2ZM429.1 491.7L429.7 490.1L429.3 488.3ZM433.9 494.9L434.9 494.2L437.1 496.4L439.5 497.5L442.3 497.2L442.7 494.4L441.8 492.4L439.4 487.3L436.0 487.9L434.9 493.6L433.6 494.8ZM461.2 486.9L464.1 484.7L464.6 481.4L463.6 482.1L460.1 485.6L458.6 486.5ZM471.1 479.2L470.0 477.4L467.0 479.8L465.5 480.8L470.2 479.9ZM475.0 498.7L475.1 498.6L474.8 498.7ZM466.0 493.4L467.0 491.9L473.9 490.7L479.6 491.9L480.2 493.8L481.8 492.3L480.7 490.3L479.6 491.3L473.9 490.1L467.0 491.3L465.7 493.1ZM461.2 486.9L462.1 488.2L463.6 487.9L464.1 484.7ZM471.1 479.2L470.2 479.9L470.5 479.8L471.9 479.5ZM494.3 485.2L492.3 486.7L490.0 489.0L486.5 487.9L484.2 491.3L483.1 486.7L479.6 481.0L477.1 478.5L476.0 479.9L479.6 484.4L483.1 487.9L480.7 490.3L481.8 492.3L488.7 492.2ZM501.8 474.2L500.4 475.6L502.0 479.2L497.9 482.4L500.5 484.3L504.9 482.1L510.6 487.9L515.2 491.3L518.8 492.7L519.8 491.8L516.0 478.0ZM516.0 478.0L519.8 491.8L520.9 491.6L520.7 491.3L521.9 486.7L519.6 481.0L518.6 476.0L518.1 475.4ZM550.2 475.6L549.5 477.5L548.9 482.1L548.3 487.9L547.3 490.0L551.1 490.7L555.4 486.9L555.2 486.7L551.8 483.3L551.8 477.8ZM575.9 481.3L567.7 478.2L562.7 482.4L563.2 483.3L566.7 489.0L567.8 492.4L565.2 493.1L566.4 494.9L570.1 493.0L574.0 494.2ZM580.9 481.5L589.3 490.4L596.9 482.7L596.5 482.1L593.1 478.7L589.6 475.2L587.4 472.9L585.0 475.2L584.9 475.0ZM589.7 493.1L596.0 495.3L603.5 492.7L603.4 492.4L600.0 486.7L596.9 482.7L589.3 490.4ZM437.1 496.4L438.3 497.6L439.5 497.5ZM433.6 494.8L429.1 498.8L433.9 494.9ZM427.0 495.5L427.4 495.9L428.3 493.7ZM442.3 497.2L444.0 497.0L442.7 494.4ZM455.0 489.7L454.4 491.3L454.8 491.9ZM463.2 506.1L469.3 500.8L464.7 502.2L463.6 497.0L466.0 493.4L465.7 493.1L463.6 495.9L460.1 493.6L458.4 489.0L462.1 488.2L461.2 486.9L458.6 486.5L455.5 488.4L455.0 489.7L454.8 491.9L459.0 497.0L461.3 501.6L461.2 505.4L461.3 506.1ZM495.6 501.4L493.3 498.3L490.0 500.5L485.4 497.0L484.2 502.2L479.6 501.6L478.7 496.9L476.2 498.2L475.1 498.6L475.0 498.7L478.9 506.6L481.8 508.0L485.4 509.8L486.7 506.2L490.7 506.7L491.1 506.8L495.7 503.8ZM488.7 492.2L481.8 492.3L480.2 493.8L480.5 494.9L483.1 493.6L487.7 494.8L489.1 492.7ZM509.1 497.6L508.4 497.0L504.9 492.4L501.5 489.0L500.3 484.4L500.5 484.3L497.9 482.4L496.9 483.3L494.3 485.2L488.7 492.2L489.1 492.7L490.0 491.3L496.9 489.0L498.0 493.6L493.4 498.2L493.3 498.3L495.6 501.4ZM495.6 501.4L495.7 503.8L499.1 511.1L503.2 512.5L504.2 513.0L508.2 511.3L504.9 508.5L511.2 502.8L512.1 509.5L513.4 508.9L512.4 501.6L516.5 499.8L516.4 499.1L513.0 500.5L509.1 497.6ZM537.0 506.9L535.6 502.3L534.5 501.6L532.2 502.2L534.5 507.4L535.2 508.4ZM516.5 499.8L517.5 499.3L523.0 495.3L520.9 491.6L519.8 491.8L518.8 492.7L521.0 493.6L518.7 498.2L516.4 499.1ZM537.0 506.9L546.6 507.9L551.4 502.4L551.1 490.7L547.3 490.0L546.0 492.4L544.9 497.0L540.3 501.6L538.0 503.9L535.6 502.3ZM551.1 490.7L551.4 502.4L567.9 506.9L569.0 506.2L564.4 503.9L564.4 495.9L566.4 494.9L565.2 493.1L563.2 493.6L559.8 491.3L555.4 486.9ZM589.7 493.1L589.3 490.4L580.9 481.5L575.9 481.3L574.0 494.2L575.9 494.8L579.3 498.2L581.6 503.4L583.2 502.6ZM576.1 504.8L580.5 503.9L581.6 503.4L575.9 504.8ZM596.0 495.3L589.7 493.1L583.2 502.6L583.9 502.2L589.6 502.8L595.4 500.5L598.2 498.6ZM596.0 495.3L598.2 498.6L598.8 498.2L602.3 494.8L605.1 495.9L603.5 492.7ZM461.3 506.1L462.1 513.4L464.7 516.0L463.0 512.0L465.5 511.3L463.2 506.1ZM467.5 515.8L467.4 515.6L464.7 516.0L466.1 517.4ZM475.0 498.7L474.8 498.7L470.5 500.5L469.3 500.8L463.2 506.1L465.5 511.3L469.3 510.2L473.9 509.1L472.8 512.0L468.2 515.4L467.4 515.6L467.5 515.8L475.8 520.6L476.4 519.6L479.1 515.2L478.7 510.7L478.2 506.2L478.9 506.6ZM491.1 506.8L496.5 508.5L497.9 510.7L499.1 511.1L495.7 503.8ZM504.2 513.0L508.6 515.2L512.1 517.4L513.0 516.6L512.9 516.6L513.5 509.7L513.4 508.9L512.1 509.5L512.4 512.0L508.4 511.4L508.2 511.3ZM516.5 519.6L515.8 517.7L514.5 517.2ZM543.6 525.8L543.8 525.2L542.7 525.7ZM545.1 520.2L543.7 518.9L541.4 513.1L547.1 509.7L547.2 509.7L546.6 507.9L537.0 506.9L535.2 508.4L537.4 512.0L540.3 516.6L542.6 520.0L545.0 520.5ZM546.6 507.9L547.2 509.7L552.9 512.0L555.4 516.2L557.1 517.3L558.6 516.6L562.7 514.3L563.2 509.7L567.9 506.9L551.4 502.4ZM475.3 523.5L474.2 523.2L475.8 520.6L467.5 515.8L466.1 517.4L466.6 517.9L467.1 522.5L468.8 526.8L471.1 528.2L472.9 530.5L473.7 530.9L473.9 530.1L472.8 528.0L474.5 527.2ZM467.6 522.9L471.6 522.9L472.2 525.8L471.0 528.0L469.3 525.2ZM491.2 533.6L490.4 529.1L488.9 527.7L485.4 526.8L481.8 525.0L478.2 524.1L475.3 523.5L474.5 527.2L477.4 525.8L479.6 529.2L475.7 531.7L476.4 532.0L480.4 535.3L481.2 534.6L479.6 531.5L482.5 528.6L484.8 531.5L484.7 531.6L484.9 531.4L487.1 530.4L490.7 533.9L490.6 534.4ZM473.7 530.9L474.6 531.2L473.9 530.1ZM491.2 533.6L492.7 533.4L494.3 529.5L492.5 531.2L490.4 529.1ZM521.6 535.7L521.6 535.7L520.7 526.9L520.8 526.9L518.2 523.5L518.4 524.1L517.5 528.6L518.8 533.9L518.5 534.7ZM489.7 540.5L490.3 537.5L492.5 533.9L492.7 533.4L491.2 533.6L490.6 534.4L489.6 540.4ZM507.6 539.8L506.8 540.2L502.3 543.8L497.9 542.0L494.3 543.8L497.0 545.5L497.0 543.8L500.5 544.6L501.4 547.3L499.1 550.0L501.4 550.0L501.7 550.2L507.5 545.2L507.5 544.0L505.9 543.8L507.6 542.5ZM507.5 545.2L517.4 548.3L517.5 548.2L518.8 543.8L517.5 539.3L519.3 535.7L521.6 535.7L518.5 534.7L516.6 538.4L514.8 541.1L510.4 538.4L507.6 539.8L507.6 542.5L510.8 540.2L515.7 542.9L513.0 544.6L508.6 544.2L507.5 544.0ZM543.6 525.8L542.7 525.7L541.4 526.3L540.1 527.0L540.7 526.8L543.8 525.9ZM507.5 545.2L501.7 550.2L505.0 552.7L506.3 557.1L510.4 553.6L513.9 551.8L517.4 548.3Z" fill="#ffd6d6" stroke="#fff" stroke-opacity=".75" stroke-width=".65" stroke-linejoin="round"/>
<path d="M449.8 306.4L449.2 309.8L449.8 313.8L451.5 317.3L457.2 315.0L460.1 312.7L460.7 309.2L464.7 309.2L469.3 306.9L473.3 304.1L473.9 299.5L470.5 299.5L464.7 297.8L456.7 296.6L453.2 300.6Z" fill="#ffd6d6" stroke="#fff" stroke-opacity=".75" stroke-width=".65" stroke-linejoin="round"/>
<path d="M429.7 335.7L431.0 337.0L435.1 338.9L436.6 339.1L442.9 338.5L449.2 338.5L453.2 341.4L455.5 342.0L456.7 337.4L456.7 331.6L455.5 327.0L452.7 324.2L449.2 326.5L444.6 325.3L439.4 328.2L433.7 331.6Z" fill="#ffd6d6" stroke="#fff" stroke-opacity=".75" stroke-width=".65" stroke-linejoin="round"/>
<path d="M487.1 318.4L484.2 320.1L478.5 321.3L476.2 323.6L477.4 326.5L479.6 327.6L476.8 333.9L485.4 336.2L493.4 338.5L496.9 333.9L500.3 327.0L502.6 322.4L504.3 319.0L501.5 315.6L496.9 315.0L492.3 311.0L489.4 312.7Z" fill="#ffd6d6" stroke="#fff" stroke-opacity=".75" stroke-width=".65" stroke-linejoin="round"/>
<path d="M473.9 336.2L475.1 340.2L471.6 343.1L468.2 347.7L471.0 352.3L472.2 356.9L478.5 355.8L484.2 354.6L487.1 348.9L490.0 343.1L493.4 338.5L485.4 336.2L476.8 333.9Z" fill="#ffd6d6" stroke="#fff" stroke-opacity=".75" stroke-width=".65" stroke-linejoin="round"/>
<path d="M550.6 383.3L543.7 385.6L538.0 387.9L534.0 390.2L535.1 394.8L536.8 401.7L537.4 406.3L542.6 407.4L548.3 409.8L549.5 414.3L552.9 413.2L557.5 412.0L562.1 413.2L562.1 408.6L561.5 404.0L559.8 399.4L554.6 397.1L554.0 392.5L556.9 386.8L557.5 382.2L553.5 379.9Z" fill="#ffd6d6" stroke="#fff" stroke-opacity=".75" stroke-width=".65" stroke-linejoin="round"/>
<path d="M502.6 322.4L500.3 327.0L496.9 333.9L493.4 338.5L490.0 343.1L487.1 348.9L484.2 354.6L485.4 359.2L487.7 361.5L486.0 366.1L490.0 366.1L492.3 368.4L496.9 370.1L498.0 373.0L501.5 375.3L506.1 378.7L510.6 379.9L515.2 378.7L519.8 379.9L524.4 383.3L523.0 378.0L525.3 375.3L527.6 370.7L532.2 367.2L534.0 363.8L533.4 356.9L529.9 353.5L525.3 350.0L524.8 343.1L520.7 338.5L519.6 333.9L515.0 330.5L518.7 331.6L513.0 327.0L507.2 321.3L504.3 319.0Z" fill="#ffd6d6" stroke="#fff" stroke-opacity=".75" stroke-width=".65" stroke-linejoin="round"/>
<path d="M412.5 397.7L413.0 402.9L413.6 408.6L418.8 412.0L421.1 418.9L425.1 417.8L430.3 415.5L436.0 417.8L437.7 413.2L439.4 407.4L443.5 404.0L445.2 400.0L438.3 394.2L431.4 390.2L426.8 386.2L421.1 387.4L414.2 392.5Z" fill="#ffd6d6" stroke="#fff" stroke-opacity=".75" stroke-width=".65" stroke-linejoin="round"/>
<path d="M461.3 420.1L462.4 423.5L464.7 429.3L459.0 432.7L457.8 437.3L462.4 439.6L469.3 440.8L473.9 441.9L478.5 446.5L480.8 441.9L484.2 439.6L485.4 433.9L484.2 428.1L479.6 424.1L476.8 418.9L473.9 415.5L472.8 413.2L467.0 414.9L462.4 416.1Z" fill="#ffd6d6" stroke="#fff" stroke-opacity=".75" stroke-width=".65" stroke-linejoin="round"/>
<path d="M456.1 368.4L455.5 378.0L460.1 381.0L464.7 383.3L469.3 382.2L471.0 378.0L473.9 374.1L479.6 370.7L486.0 366.1L487.7 361.5L485.4 359.2L484.2 354.6L478.5 355.8L472.2 356.9L471.0 352.3L468.2 347.7L464.1 346.6L461.3 347.7L458.4 348.3L455.5 352.3L453.8 355.8L452.1 359.2L452.2 359.3L452.7 358.6L454.9 356.8L457.6 360.4L457.1 364.4L455.8 365.5Z" fill="#ffd6d6" stroke="#fff" stroke-opacity=".75" stroke-width=".65" stroke-linejoin="round"/>
<path d="M478.7 510.7L479.1 515.2L476.4 519.6L474.2 523.2L478.2 524.1L481.8 525.0L485.4 526.8L488.9 527.7L492.5 531.2L494.3 529.5L496.5 525.0L497.0 519.6L497.4 515.2L497.9 510.7L496.5 508.5L490.7 506.7L486.7 506.2L485.4 509.8L481.8 508.0L478.2 506.2Z" fill="#ffd6d6" stroke="#fff" stroke-opacity=".75" stroke-width=".65" stroke-linejoin="round"/>
<path d="M545.4 366.1L535.7 366.1L532.2 370.7L529.9 378.0L531.1 375.3L534.0 378.7L536.2 383.3L538.0 387.9L543.7 385.6L550.6 383.3L552.9 377.7L551.8 370.7L549.5 367.2ZM552.9 377.7L552.9 378.0L552.9 377.7Z" fill="#ffd6d6" stroke="#fff" stroke-opacity=".75" stroke-width=".65" stroke-linejoin="round"/>
<path d="M579.3 498.2L575.9 494.8L570.1 493.0L564.4 495.9L564.4 503.9L569.0 506.2L574.7 505.1L581.6 503.4L581.6 503.4Z" fill="#ffd6d6" stroke="#fff" stroke-opacity=".75" stroke-width=".65" stroke-linejoin="round"/>
<path d="M443.5 404.0L439.4 407.4L437.7 413.2L436.0 417.8L438.3 423.5L442.9 424.1L446.3 424.7L450.9 423.5L454.9 422.4L452.7 418.9L453.2 416.1L456.7 414.9L457.2 412.6L454.9 410.3L450.9 409.2L447.5 406.3L445.2 400.0Z" fill="#ffd6d6" stroke="#fff" stroke-opacity=".75" stroke-width=".65" stroke-linejoin="round"/>
<path d="M480.2 293.7L476.2 295.5L473.9 299.5L473.3 304.1L469.3 306.9L464.7 309.2L460.7 309.2L460.1 312.7L457.2 315.0L451.5 317.3L449.2 318.4L448.6 321.3L447.5 324.8L449.2 326.5L452.7 324.2L455.5 327.0L456.7 331.6L456.7 337.4L455.5 342.0L457.8 343.1L458.4 348.3L461.3 347.7L464.1 346.6L468.2 347.7L471.6 343.1L475.1 340.2L473.9 336.2L476.8 333.9L479.6 327.6L477.4 326.5L476.2 323.6L478.5 321.3L484.2 320.1L487.1 318.4L485.4 316.1L481.4 312.1L478.5 313.3L473.9 310.4L472.8 307.5L475.6 305.8L479.6 302.9L481.4 298.3Z" fill="#ffb3b3" stroke="#fff" stroke-opacity=".75" stroke-width=".65" stroke-linejoin="round"/>
<path d="M453.6 355.0L455.4 351.4L457.1 347.9L457.1 344.7L453.6 342.5L451.3 339.8L448.7 338.5L444.6 339.8L439.3 338.0L436.2 339.4L436.2 343.4L438.4 345.2L442.0 347.0L444.6 349.6L446.4 354.1L445.5 358.6L446.4 361.7L450.0 363.0L452.7 358.6Z" fill="#ffb3b3" stroke="#fff" stroke-opacity=".75" stroke-width=".65" stroke-linejoin="round"/>
<path d="M439.4 312.7L439.4 317.3L444.0 319.6L448.6 317.9L449.2 313.8L446.3 311.5Z" fill="#ffb3b3" stroke="#fff" stroke-opacity=".75" stroke-width=".65" stroke-linejoin="round"/>
<path d="M471.6 379.9L472.8 384.5L476.8 389.1L478.5 393.7L474.5 397.1L475.1 402.9L475.6 408.6L473.3 412.0L473.9 415.5L476.8 418.9L479.6 424.1L481.9 418.9L485.4 418.4L487.7 415.5L490.0 412.0L493.4 407.4L495.7 405.7L499.2 408.0L501.5 405.1L503.8 401.7L504.9 397.1L507.2 394.8L509.5 392.5L508.9 383.3L506.1 380.5L501.5 379.3L496.9 377.6L495.7 373.0L493.4 369.6L490.0 366.1L485.4 368.4L479.6 371.9L473.9 375.3Z" fill="#ffb3b3" stroke="#fff" stroke-opacity=".75" stroke-width=".65" stroke-linejoin="round"/>
<path d="M456.9 412.6L456.4 414.9L453.2 416.1L452.7 418.9L454.9 422.4L459.0 422.9L461.3 420.1L462.4 417.2L469.3 415.7L474.1 415.7L473.6 411.5L468.4 412.6L467.9 410.0L466.8 409.8L466.1 412.6L462.4 413.2L459.0 414.3L457.2 410.7L455.3 410.0Z" fill="#ffb3b3" stroke="#fff" stroke-opacity=".75" stroke-width=".65" stroke-linejoin="round"/>
<path d="M463.6 392.5L462.4 398.3L464.7 404.0L465.3 408.6L467.6 410.9L469.3 413.2L472.8 412.6L475.6 408.6L475.1 402.9L474.5 397.1L478.5 393.7L476.8 389.1L472.8 384.5L471.6 379.9L469.3 377.6L467.0 382.2L464.7 386.8Z" fill="#ffb3b3" stroke="#fff" stroke-opacity=".75" stroke-width=".65" stroke-linejoin="round"/>
<path d="M443.8 379.1L442.0 383.6L439.3 390.7L440.2 394.3L450.0 391.6L457.1 388.9L462.5 387.1L465.2 383.6L464.3 378.2L457.1 378.7L450.0 378.2L444.6 376.4Z" fill="#ffb3b3" stroke="#fff" stroke-opacity=".75" stroke-width=".65" stroke-linejoin="round"/>
<path d="M438.3 394.2L445.2 400.0L447.5 406.3L450.9 409.2L454.9 410.3L457.2 410.9L459.6 414.9L462.4 413.8L466.4 413.2L467.0 410.9L465.3 408.6L464.7 404.0L462.4 398.3L463.6 392.5L464.7 386.8L460.1 387.9L453.2 390.2L445.2 391.4L439.4 393.7Z" fill="#ffb3b3" stroke="#fff" stroke-opacity=".75" stroke-width=".65" stroke-linejoin="round"/>
<path d="M507.2 394.8L504.9 397.1L503.8 401.7L501.5 405.1L504.9 406.3L510.6 407.4L513.0 409.8L510.6 414.3L513.0 417.8L517.5 420.1L521.9 420.1L528.8 417.2L532.2 413.2L534.5 408.6L535.1 401.7L532.2 398.3L530.5 393.1L527.6 391.9L520.7 396.0L515.0 399.4L519.8 396.0L514.1 394.8L509.5 392.5Z" fill="#ffb3b3" stroke="#fff" stroke-opacity=".75" stroke-width=".65" stroke-linejoin="round"/>
<path d="M557.5 412.0L552.9 413.2L549.5 416.1L546.0 418.9L542.6 418.9L539.7 418.4L536.8 424.7L532.2 429.3L526.5 432.7L520.7 433.3L523.6 437.3L526.5 440.8L532.2 443.1L538.0 442.5L543.7 439.6L549.5 439.6L554.0 438.5L559.8 439.0L562.1 437.3L566.7 438.5L570.7 439.0L570.7 436.7L566.1 433.9L563.8 430.4L564.4 425.8L562.7 421.2L564.4 416.6L562.1 413.2Z" fill="#ffb3b3" stroke="#fff" stroke-opacity=".75" stroke-width=".65" stroke-linejoin="round"/>
<path d="M538.0 412.0L539.7 416.6L543.7 418.9L548.3 418.4L549.5 414.3L548.3 409.8L542.6 407.4L537.4 406.3Z" fill="#ffb3b3" stroke="#fff" stroke-opacity=".75" stroke-width=".65" stroke-linejoin="round"/>
<path d="M520.7 430.4L526.5 432.7L533.4 428.1L537.4 422.4L535.7 416.6L532.2 413.2L528.8 417.2L518.5 422.4Z" fill="#ffb3b3" stroke="#fff" stroke-opacity=".75" stroke-width=".65" stroke-linejoin="round"/>
<path d="M518.5 453.4L524.2 458.0L532.8 456.8L534.0 451.1L532.2 444.2L524.2 441.9L517.3 446.5Z" fill="#ffb3b3" stroke="#fff" stroke-opacity=".75" stroke-width=".65" stroke-linejoin="round"/>
<path d="M535.1 455.7L541.4 456.8L547.1 453.4L548.3 446.5L544.9 441.9L534.5 444.2Z" fill="#ffb3b3" stroke="#fff" stroke-opacity=".75" stroke-width=".65" stroke-linejoin="round"/>
<path d="M502.6 408.6L503.8 413.2L507.2 415.5L510.6 414.3L513.0 409.8L510.6 407.4L504.9 406.3L501.5 405.1Z" fill="#ffb3b3" stroke="#fff" stroke-opacity=".75" stroke-width=".65" stroke-linejoin="round"/>
<path d="M484.2 428.1L487.7 431.6L492.3 432.7L496.9 431.6L494.6 427.0L490.0 422.4L485.4 418.4L481.9 418.9L479.6 424.1Z" fill="#ffb3b3" stroke="#fff" stroke-opacity=".75" stroke-width=".65" stroke-linejoin="round"/>
<path d="M431.4 469.5L433.1 474.1L436.0 475.2L438.3 471.8L439.4 468.3L442.9 466.0L445.2 461.4L437.1 458.0L429.1 461.4Z" fill="#ffb3b3" stroke="#fff" stroke-opacity=".75" stroke-width=".65" stroke-linejoin="round"/>
<path d="M476.8 470.6L473.9 470.1L471.6 471.8L472.8 475.2L476.2 477.5L479.6 481.0L483.1 486.7L484.2 491.3L486.5 487.9L490.0 489.0L492.3 486.7L496.9 483.3L502.0 479.2L500.3 475.2L499.2 469.5L500.9 462.6L498.0 459.1L492.3 458.0L485.4 459.1L478.5 463.7Z" fill="#ffb3b3" stroke="#fff" stroke-opacity=".75" stroke-width=".65" stroke-linejoin="round"/>
<path d="M473.9 476.9L478.5 477.5L478.5 470.6L472.8 469.5Z" fill="#ffb3b3" stroke="#fff" stroke-opacity=".75" stroke-width=".65" stroke-linejoin="round"/>
<path d="M497.9 542.0L502.3 543.8L506.8 540.2L510.4 538.4L514.8 541.1L516.6 538.4L518.8 533.9L517.5 528.6L518.4 524.1L516.6 519.6L513.5 516.1L512.1 517.4L508.6 515.2L503.2 512.5L497.9 510.7L497.4 515.2L497.0 519.6L496.5 525.0L494.3 529.5L492.5 533.9L490.3 537.5L489.4 542.0L490.7 545.5L494.3 543.8Z" fill="#ffb3b3" stroke="#fff" stroke-opacity=".75" stroke-width=".65" stroke-linejoin="round"/>
<path d="M501.5 489.0L504.9 492.4L508.4 497.0L513.0 500.5L518.7 498.2L521.0 493.6L515.2 491.3L510.6 487.9L504.9 482.1L500.3 484.4Z" fill="#ffb3b3" stroke="#fff" stroke-opacity=".75" stroke-width=".65" stroke-linejoin="round"/>
<path d="M515.2 471.8L519.8 477.5L525.0 478.7L526.7 471.8L525.0 466.0L519.8 464.3L514.1 464.9Z" fill="#ffb3b3" stroke="#fff" stroke-opacity=".75" stroke-width=".65" stroke-linejoin="round"/>
<path d="M516.1 471.8L518.5 475.2L519.6 481.0L521.9 486.7L520.7 491.3L523.0 495.3L527.6 499.3L532.2 502.2L534.5 501.6L538.0 503.9L540.3 501.6L544.9 497.0L546.0 492.4L548.3 487.9L548.9 482.1L549.5 477.5L551.8 471.8L554.6 466.6L552.9 463.7L543.7 462.6L539.1 460.3L534.5 463.7L528.8 466.0L520.7 465.5L515.0 468.3Z" fill="#ffb3b3" stroke="#fff" stroke-opacity=".75" stroke-width=".65" stroke-linejoin="round"/>
<path d="M533.4 525.8L526.5 525.2L520.7 526.9L521.6 535.7L522.0 535.7L525.5 539.3L527.9 540.8L529.3 540.4L532.7 538.4L537.1 535.7L535.4 528.8Z" fill="#ffb3b3" stroke="#fff" stroke-opacity=".75" stroke-width=".65" stroke-linejoin="round"/>
<path d="M551.8 483.3L555.2 486.7L559.8 491.3L563.2 493.6L567.8 492.4L566.7 489.0L563.2 483.3L558.6 476.4L555.2 472.9L551.8 477.5Z" fill="#ffb3b3" stroke="#fff" stroke-opacity=".75" stroke-width=".65" stroke-linejoin="round"/>
<path d="M552.9 512.0L547.1 509.7L541.4 513.1L543.7 518.9L545.4 520.6L549.5 520.0L554.0 518.9L556.3 517.7Z" fill="#ffb3b3" stroke="#fff" stroke-opacity=".75" stroke-width=".65" stroke-linejoin="round"/>
<path d="M538.0 340.8L531.1 341.4L527.1 344.3L528.8 350.0L532.2 352.3L536.8 350.6L540.8 347.7L541.8 345.7L540.8 343.1L540.9 343.0Z" fill="#ffb3b3" stroke="#fff" stroke-opacity=".75" stroke-width=".65" stroke-linejoin="round"/>
<path d="M484.2 463.0L485.4 464.9L492.3 463.7L498.0 464.9L499.2 463.0L495.7 455.7L490.0 453.4L487.7 449.9L483.1 451.1Z" fill="#ffb3b3" stroke="#fff" stroke-opacity=".75" stroke-width=".65" stroke-linejoin="round"/>
<path d="M440.0 412.0L438.3 417.8L437.7 423.5L440.6 425.8L445.2 427.0L448.6 424.7L450.9 421.2L453.2 416.6L455.5 412.6L453.2 409.8L448.6 412.0L446.3 408.6L444.0 405.7Z" fill="#ff8c8c" stroke="#fff" stroke-opacity=".75" stroke-width=".65" stroke-linejoin="round"/>
<path d="M434.3 431.6L434.9 436.2L438.3 437.3L444.0 437.9L450.9 438.5L455.5 437.3L459.0 432.7L463.6 429.3L463.0 427.0L459.0 425.2L453.2 424.7L448.6 424.7L445.2 427.0L440.6 425.8L436.0 427.0Z" fill="#ff8c8c" stroke="#fff" stroke-opacity=".75" stroke-width=".65" stroke-linejoin="round"/>
<path d="M494.0 409.8L492.3 413.2L490.0 418.9L490.6 422.4L493.4 424.7L495.7 421.2L498.6 415.5L500.3 410.9L495.7 406.9Z" fill="#ff8c8c" stroke="#fff" stroke-opacity=".75" stroke-width=".65" stroke-linejoin="round"/>
<path d="M500.3 438.5L498.0 444.2L495.7 451.1L496.9 453.4L501.5 456.8L506.1 458.0L510.6 455.7L515.2 452.2L514.1 446.5L511.8 440.8L507.2 441.9L506.1 437.3L502.6 432.7Z" fill="#ff8c8c" stroke="#fff" stroke-opacity=".75" stroke-width=".65" stroke-linejoin="round"/>
<path d="M501.8 390.2L504.7 393.7L509.3 394.8L515.0 394.8L519.6 395.4L524.2 392.5L528.8 390.2L534.0 390.2L535.7 386.8L533.4 383.3L534.0 378.7L529.9 375.3L525.3 377.6L519.6 381.0L515.0 379.9L508.1 382.2L502.4 385.6Z" fill="#ff8c8c" stroke="#fff" stroke-opacity=".75" stroke-width=".65" stroke-linejoin="round"/>
<path d="M422.2 458.0L428.0 456.8L430.3 452.2L428.0 451.1L419.9 454.5Z" fill="#ff8c8c" stroke="#fff" stroke-opacity=".75" stroke-width=".65" stroke-linejoin="round"/>
<path d="M419.4 447.6L422.8 446.5L422.2 443.1L418.8 443.6Z" fill="#ff8c8c" stroke="#fff" stroke-opacity=".75" stroke-width=".65" stroke-linejoin="round"/>
<path d="M544.9 353.5L539.7 356.9L536.8 361.5L538.5 364.4L542.0 366.1L546.0 364.4L547.8 361.9L548.3 356.9L546.9 354.0Z" fill="#ff8c8c" stroke="#fff" stroke-opacity=".75" stroke-width=".65" stroke-linejoin="round"/>
<path d="M459.0 497.0L454.4 491.3L455.5 488.4L460.1 485.6L463.6 482.1L467.0 479.8L470.5 476.9L468.7 472.9L464.7 469.5L461.3 465.5L455.5 468.3L450.9 464.9L445.2 466.6L439.4 468.3L438.3 471.8L436.0 475.2L433.1 474.1L432.6 479.8L428.5 484.4L429.7 490.1L427.4 495.9L429.1 498.8L434.9 493.6L436.0 487.9L439.4 487.3L441.8 492.4L444.0 497.0L447.5 493.6L450.9 492.4L455.5 494.8L461.3 501.6Z" fill="#ff8c8c" stroke="#fff" stroke-opacity=".75" stroke-width=".65" stroke-linejoin="round"/>
<path d="M423.9 482.1L428.0 481.0L432.6 479.8L432.6 473.5L429.1 471.2L422.8 476.4Z" fill="#ff8c8c" stroke="#fff" stroke-opacity=".75" stroke-width=".65" stroke-linejoin="round"/>
<path d="M463.6 487.9L458.4 489.0L460.1 493.6L463.6 495.9L467.0 491.3L473.9 490.1L479.6 491.3L483.1 487.9L479.6 484.4L475.1 478.7L470.5 479.8L464.7 481.0Z" fill="#ff8c8c" stroke="#fff" stroke-opacity=".75" stroke-width=".65" stroke-linejoin="round"/>
<path d="M464.7 502.2L470.5 500.5L476.2 498.2L480.8 495.9L479.6 491.9L473.9 490.7L467.0 491.9L463.6 497.0Z" fill="#ff8c8c" stroke="#fff" stroke-opacity=".75" stroke-width=".65" stroke-linejoin="round"/>
<path d="M479.6 501.6L484.2 502.2L485.4 497.0L490.0 500.5L493.4 498.2L498.0 493.6L496.9 489.0L490.0 491.3L487.7 494.8L483.1 493.6L478.5 495.9Z" fill="#ff8c8c" stroke="#fff" stroke-opacity=".75" stroke-width=".65" stroke-linejoin="round"/>
<path d="M508.4 511.4L512.4 512.0L511.2 502.8L504.9 508.5Z" fill="#ff8c8c" stroke="#fff" stroke-opacity=".75" stroke-width=".65" stroke-linejoin="round"/>
<path d="M542.6 520.0L540.3 516.6L537.4 512.0L534.5 507.4L532.2 502.2L527.6 499.3L523.0 495.3L517.5 499.3L512.4 501.6L513.5 509.7L512.9 516.6L515.8 517.7L518.1 523.5L521.0 527.1L526.5 525.2L533.4 525.8L535.4 528.8L535.4 528.6L540.1 527.0L541.4 526.3L544.0 525.0L544.3 523.2L545.4 520.6Z" fill="#ff8c8c" stroke="#fff" stroke-opacity=".75" stroke-width=".65" stroke-linejoin="round"/>
<path d="M479.6 529.2L477.4 525.8L472.8 528.0L474.6 531.2L475.7 531.7Z" fill="#ff8c8c" stroke="#fff" stroke-opacity=".75" stroke-width=".65" stroke-linejoin="round"/>
<path d="M508.4 459.1L510.6 464.9L514.1 468.9L519.8 468.3L521.0 463.7L519.8 458.0L515.2 452.2L507.8 453.4Z" fill="#ff5e5e" stroke="#fff" stroke-opacity=".75" stroke-width=".65" stroke-linejoin="round"/>
<path d="M570.1 441.3L564.4 440.8L557.5 439.6L551.8 441.9L551.8 445.4L554.0 448.8L557.5 452.2L560.9 451.1L565.5 452.2L570.1 449.9L575.9 449.9L575.9 446.4L575.3 446.5L574.7 440.9Z" fill="#ff5e5e" stroke="#fff" stroke-opacity=".75" stroke-width=".65" stroke-linejoin="round"/>
<path d="M543.7 467.2L546.0 468.3L547.1 463.0L551.8 459.1L552.9 468.3L556.9 467.2L556.3 463.0L557.5 456.8L561.5 455.7L560.9 453.4L554.6 452.2L551.8 449.9L549.5 453.4L543.7 459.1Z" fill="#ff5e5e" stroke="#fff" stroke-opacity=".75" stroke-width=".65" stroke-linejoin="round"/>
<path d="M574.1 466.0L577.6 466.0L578.2 463.0L575.9 457.4L573.6 463.0Z" fill="#ff5e5e" stroke="#fff" stroke-opacity=".75" stroke-width=".65" stroke-linejoin="round"/>
<path d="M512.7 456.8L511.6 464.9L515.0 468.9L519.6 468.3L520.2 463.0L519.6 455.7L515.0 453.4Z" fill="#ff5e5e" stroke="#fff" stroke-opacity=".75" stroke-width=".65" stroke-linejoin="round"/>
<path d="M592.5 455.7L595.4 455.7L594.2 458.0L593.1 462.6L588.5 464.3L579.3 462.6L573.6 462.6L574.7 466.0L578.2 469.5L582.8 471.8L585.0 475.2L587.4 472.9L589.6 475.2L593.1 478.7L596.5 482.1L600.0 486.7L603.4 492.4L605.1 495.9L606.3 492.4L608.0 486.7L609.2 481.0L611.5 475.2L614.9 472.9L618.4 469.5L619.5 463.7L617.2 463.0L616.1 454.5L610.3 459.1L604.6 460.3L600.5 455.7L597.7 449.9Z" fill="#ff5e5e" stroke="#fff" stroke-opacity=".75" stroke-width=".65" stroke-linejoin="round"/>
<path d="M508.4 458.0L511.8 461.4L515.2 464.3L519.8 463.7L521.0 458.0L521.0 452.8L508.4 453.4Z" fill="#ff5e5e" stroke="#fff" stroke-opacity=".75" stroke-width=".65" stroke-linejoin="round"/>
<path d="M468.2 515.4L472.8 512.0L473.9 509.1L469.3 510.2L463.0 512.0L464.7 516.0L464.7 516.0Z" fill="#ff5e5e" stroke="#fff" stroke-opacity=".75" stroke-width=".65" stroke-linejoin="round"/>
<path d="M484.8 531.5L482.5 528.6L479.6 531.5L481.2 534.6L484.7 531.6Z" fill="#ff5e5e" stroke="#fff" stroke-opacity=".75" stroke-width=".65" stroke-linejoin="round"/>
<path d="M501.4 547.3L500.5 544.6L497.0 543.8L497.0 545.5L497.9 550.0L499.1 550.0Z" fill="#ff5e5e" stroke="#fff" stroke-opacity=".75" stroke-width=".65" stroke-linejoin="round"/>
<path d="M508.6 544.2L513.0 544.6L515.7 542.9L510.8 540.2L505.9 543.8Z" fill="#ff5e5e" stroke="#fff" stroke-opacity=".75" stroke-width=".65" stroke-linejoin="round"/>
<path d="M543.7 462.6L549.5 463.2L552.9 460.3L557.5 463.2L557.5 454.6L543.7 454.6Z" fill="#ff5e5e" stroke="#fff" stroke-opacity=".75" stroke-width=".65" stroke-linejoin="round"/>
<path d="M437.1 444.2L437.7 449.9L441.8 446.5L445.2 444.8L449.2 449.4L450.9 446.5L452.1 441.9L450.9 439.0L444.0 437.9L437.7 438.5Z" fill="#ff0000" stroke="#fff" stroke-opacity=".75" stroke-width=".65" stroke-linejoin="round"/>
<path d="M469.3 525.2L471.0 528.0L472.2 525.8L471.6 522.9L467.6 522.9Z" fill="#cc0018" stroke="#fff" stroke-opacity=".75" stroke-width=".65" stroke-linejoin="round"/>
<circle cx="489.9" cy="296.2" r="1.1" fill="#ffb3b3"/></g>
<g font-family="Liberation Sans, sans-serif" font-size="13" fill="#4c5773" stroke="#4c5773" stroke-width=".2"><circle cx="739.6" cy="581.1" r="5" fill="#ffd7da" stroke="none"/><text x="752.2" y="586.2" textLength="42.9" lengthAdjust="spacingAndGlyphs">0 - 1,32</text><circle cx="810.2" cy="581.1" r="5" fill="#ffb1b4" stroke="none"/><text x="823.3" y="586.2" textLength="61.1" lengthAdjust="spacingAndGlyphs">1,38 - 2,28</text><circle cx="900.2" cy="581.1" r="5" fill="#fc8e92" stroke="none"/><text x="912.1" y="586.2" textLength="61.3" lengthAdjust="spacingAndGlyphs">2,43 - 3,38</text><circle cx="988.5" cy="581.1" r="5" fill="#f9636a" stroke="none"/><text x="1001.1" y="586.2" textLength="61.3" lengthAdjust="spacingAndGlyphs">4,87 - 7,68</text><circle cx="873.8" cy="598.3" r="5" fill="#ec0010" stroke="none"/><text x="886.9" y="603.2" textLength="41.8" lengthAdjust="spacingAndGlyphs">10,62 +</text></g>
</svg>
</div>
<div class="card" style="left:1096px;top:231px;width:307px;height:227px">
  <div class="ln num" style="top:76px">58256</div>
  <div class="ln lab" style="top:117px">Guariti</div>
  <div class="ln sub" style="top:139px"><svg viewBox="0 0 10 10"><path d="M5 9.8V0.9M0.7 5.2L5 0.8L9.3 5.2" fill="none" stroke="#84bb4c" stroke-width="1.3" stroke-linecap="round" stroke-linejoin="round"/></svg><span class="g">0.21%</span><span class="dot"></span><span class="e">era 58134</span><span class="l">l'ultimo giorno</span></div>
</div>
<div class="card" style="left:13px;top:462px;width:307px;height:169px">
  <div class="ln num" style="top:46px">61.469</div>
  <div class="ln lab" style="top:87px;letter-spacing:-0.22px">Casi positivi (Totali)</div>
  <div class="ln sub" style="top:109px"><svg viewBox="0 0 10 10"><path d="M5 9.8V0.9M0.7 5.2L5 0.8L9.3 5.2" fill="none" stroke="#ed6e6e" stroke-width="1.3" stroke-linecap="round" stroke-linejoin="round"/></svg><span class="r">0.18%</span><span class="dot"></span><span class="e">era 61.360</span><span class="l">l'ultimo giorno</span></div>
</div>
<div class="card" style="left:1096px;top:462px;width:307px;height:169px">
  <div class="ln num" style="top:46px">1429</div>
  <div class="ln lab" style="top:87px">Deceduti</div>
  <div class="ln sub" style="top:109px"><svg viewBox="0 0 10 10"><path d="M5 9.8V0.9M0.7 5.2L5 0.8L9.3 5.2" fill="none" stroke="#ed6e6e" stroke-width="1.3" stroke-linecap="round" stroke-linejoin="round"/></svg><span class="r">0.07%</span><span class="dot"></span><span class="e">era 1428</span><span class="l">l'ultimo giorno</span></div>
</div>
<div class="card" style="left:13px;top:635px;width:307px;height:169px">
  <div class="ln num" style="top:46px">1.732</div>
  <div class="ln lab" style="top:87px;letter-spacing:-0.25px">in isolamento contumaciale</div>
  <div class="ln sub" style="top:109px"><svg viewBox="0 0 10 10"><path d="M5 0.2V9.1M0.7 4.8L5 9.2L9.3 4.8" fill="none" stroke="#84bb4c" stroke-width="1.3" stroke-linecap="round" stroke-linejoin="round"/></svg><span class="g">0.4%</span><span class="dot"></span><span class="e">era 1.739</span><span class="l">l'ultimo giorno</span></div>
</div>
<div class="card" style="left:324px;top:635px;width:228px;height:169px">
  <div class="ln num" style="top:46px">52</div>
  <div class="ln lab" style="top:87px">Ricoverati</div>
  <div class="ln sub" style="top:109px"><svg viewBox="0 0 10 10"><path d="M5 0.2V9.1M0.7 4.8L5 9.2L9.3 4.8" fill="none" stroke="#84bb4c" stroke-width="1.3" stroke-linecap="round" stroke-linejoin="round"/></svg><span class="g">12%</span><span class="dot"></span><span class="e">era 59</span><span class="l">l'ultimo giorno</span></div>
</div>
<div class="card" style="left:555px;top:635px;width:229px;height:169px">
  <div class="ln num" style="top:46px">7</div>
  <div class="ln lab" style="top:87px;letter-spacing:-0.25px">di cui in terapia intensiva</div>
  <div class="ln sub" style="top:109px"><svg viewBox="0 0 10 10"><path d="M5 0.2V9.1M0.7 4.8L5 9.2L9.3 4.8" fill="none" stroke="#84bb4c" stroke-width="1.3" stroke-linecap="round" stroke-linejoin="round"/></svg><span class="g">13%</span><span class="dot"></span><span class="e">era 8</span><span class="l">l'ultimo giorno</span></div>
</div>
<div class="card" style="left:787px;top:635px;width:306px;height:169px">
  <div class="ln num" style="top:46px">662.580</div>
  <div class="ln lab" style="top:87px;letter-spacing:-0.18px">Antigenici eseguiti</div>
  <div class="ln sub" style="top:109px"><svg viewBox="0 0 10 10"><path d="M5 9.8V0.9M0.7 5.2L5 0.8L9.3 5.2" fill="none" stroke="#ed6e6e" stroke-width="1.3" stroke-linecap="round" stroke-linejoin="round"/></svg><span class="r">0.79%</span><span class="dot"></span><span class="e">era 657.409</span><span class="l">l'ultimo giorno</span></div>
</div>
<div class="card" style="left:1096px;top:635px;width:307px;height:169px">
  <div class="ln num" style="top:46px">1.073.111</div>
  <div class="ln lab" style="top:87px;letter-spacing:-0.37px">Tamponi eseguiti</div>
  <div class="ln sub" style="top:109px"><svg viewBox="0 0 10 10"><path d="M5 9.8V0.9M0.7 5.2L5 0.8L9.3 5.2" fill="none" stroke="#ed6e6e" stroke-width="1.3" stroke-linecap="round" stroke-linejoin="round"/></svg><span class="r">0.17%</span><span class="dot"></span><span class="e">era 1.071.307</span><span class="l">l'ultimo giorno</span></div>
</div>
</body>
</html>
